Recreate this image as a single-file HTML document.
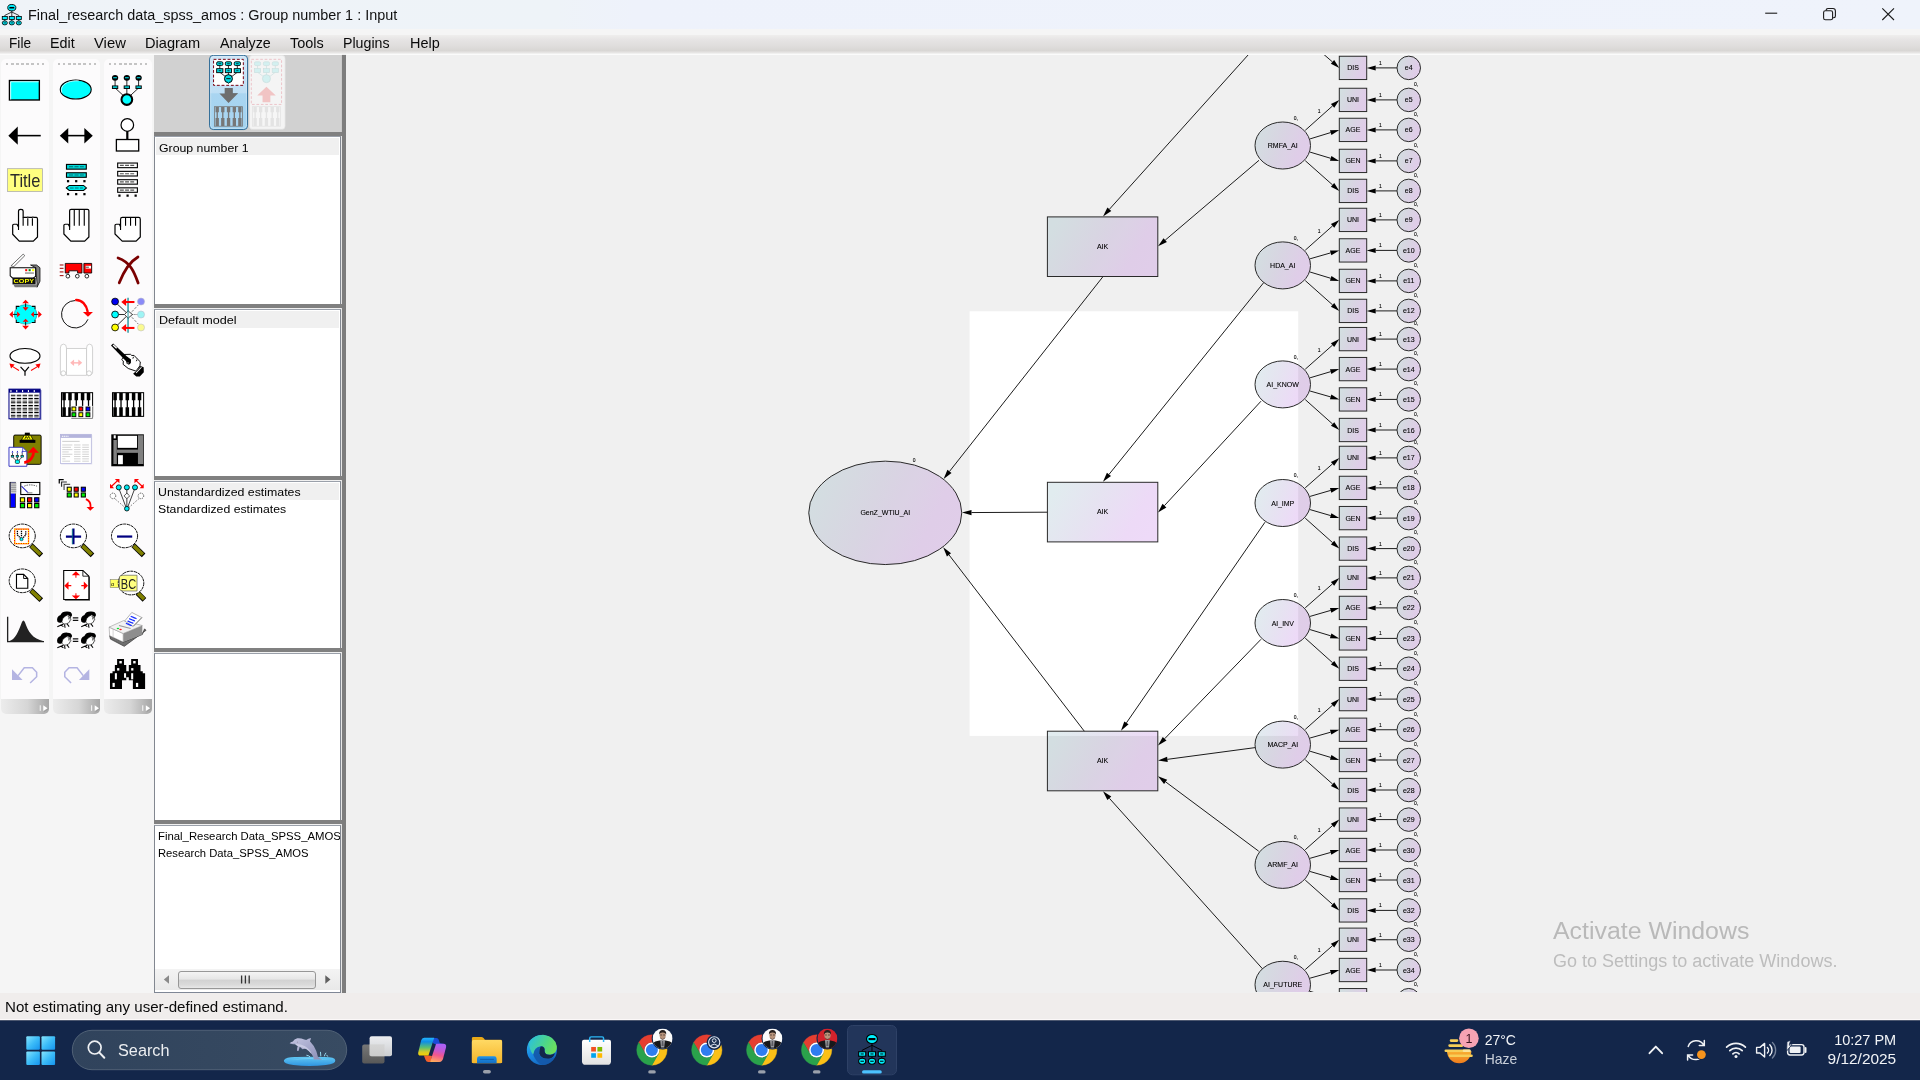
<!DOCTYPE html><html><head><meta charset="utf-8"><title>Final_research data_spss_amos : Group number 1 : Input</title>
<style>
*{box-sizing:border-box;margin:0;padding:0}
html,body{width:1920px;height:1080px;overflow:hidden;background:#f0f0f0;font-family:"Liberation Sans", sans-serif;}
.abs{position:absolute}
.t{position:absolute;white-space:nowrap;transform-origin:0 50%;line-height:normal;display:inline-block}
#titlebar{left:0;top:0;width:1920px;height:29px;background:linear-gradient(90deg,#eff3f8 0,#eef3f8 29%,#eef2fb 33%,#eff3fb 100%)}
#band{left:0;top:29px;width:1920px;height:6px;background:#f5f5f5}
#menubar{left:0;top:35px;width:1920px;height:19px;background:linear-gradient(#efeeed,#e6e4e4 25%,#dfdddc 60%,#d8d6d4 82%,#eae9e8 95%,#f7f7f7 100%)}
#menuline{left:0;top:53.5px;width:1920px;height:1.5px;background:#fbfbfb}
#leftbg{left:0;top:55px;width:154px;height:938px;background:#f5f5f5}
.col{top:59px;width:47.5px;height:654.5px;background:#fcfbfc;border-radius:5px 5px 5px 5px;overflow:hidden}
.col .grip{position:absolute;left:5px;top:4.3px;width:38px;height:2px;background:repeating-linear-gradient(90deg,#c4c4c4 0 2.4px,transparent 2.4px 5.1px)}
.col .foot{position:absolute;left:0;bottom:0;width:100%;height:15px;background:linear-gradient(90deg,#ececec,#d6d6d6 55%,#a6a6a6)}
#panelbg{left:154px;top:55px;width:188px;height:77px;background:#d1d1d1}
#vbar{left:342.2px;top:55px;width:4px;height:937.6px;background:#7d7d7d;box-shadow:0 0 1px #8a8a8a}
.hsep{left:154px;width:188px;height:4.5px;background:#808080}
.lb{left:154px;width:187px;background:#fff;border:1px solid #828790;border-top-color:#9aa0aa;border-bottom:none}
.row{left:156px;width:183px;height:17px;background:#f0f0f0}
#canvas{left:346px;top:55px;width:1574px;height:938px;background:#f0f0f0;overflow:hidden}
#status{left:0;top:993px;width:1920px;height:27px;background:linear-gradient(#f0edec 0,#f0edec 95%,#fbf8f8 96%)}
#taskbar{left:0;top:1020px;width:1920px;height:60px;background:#13264a}
</style></head><body>
<div id="titlebar" class="abs"></div><div id="band" class="abs"></div><div id="menubar" class="abs"></div><div id="menuline" class="abs"></div>
<span class="t" style="left:27.8px;top:5.72px;font-size:15.5px;color:#111;transform:scaleX(0.9295);">Final_research data_spss_amos : Group number 1 : Input</span>
<svg class="abs" style="left:0;top:0" width="26" height="28" viewBox="0 0 26 28"><g transform="translate(0.6,4.0) scale(0.70,0.67)">
<g stroke="#000" stroke-width="1.1" fill="none"><path d="M16 9V15M16 12L6 17V19M16 12L26 17V19M16 15V19M6 23V26M16 23V26M26 23V26"/></g>
<ellipse cx="16" cy="5.5" rx="5.8" ry="4.8" fill="#00f0ff" stroke="#000" stroke-width="1.3"/><rect x="12.5" y="4.4" width="7" height="2.3" fill="#000"/>
<g fill="#00f0ff" stroke="#000" stroke-width="1.2"><rect x="2.4" y="18.5" width="7.2" height="4.6"/><rect x="12.4" y="18.5" width="7.2" height="4.6"/><rect x="22.4" y="18.5" width="7.2" height="4.6"/><ellipse cx="6" cy="28.2" rx="3.7" ry="3"/><ellipse cx="16" cy="28.2" rx="3.7" ry="3"/><ellipse cx="26" cy="28.2" rx="3.7" ry="3"/></g>
<path d="M4.2 28.2h3.6M14.2 28.2h3.6M24.2 28.2h3.6" stroke="#000" stroke-width="1"/></g></svg>
<span class="t" style="left:9.3px;top:34.65px;font-size:14.5px;color:#0a0a0a;transform:scaleX(0.9435);">File</span>
<span class="t" style="left:50.3px;top:34.65px;font-size:14.5px;color:#0a0a0a;transform:scaleX(0.9880);">Edit</span>
<span class="t" style="left:94px;top:34.65px;font-size:14.5px;color:#0a0a0a;transform:scaleX(1.0226);">View</span>
<span class="t" style="left:145px;top:34.65px;font-size:14.5px;color:#0a0a0a;transform:scaleX(1.0055);">Diagram</span>
<span class="t" style="left:219.5px;top:34.65px;font-size:14.5px;color:#0a0a0a;transform:scaleX(0.9846);">Analyze</span>
<span class="t" style="left:289.5px;top:34.65px;font-size:14.5px;color:#0a0a0a;transform:scaleX(0.9971);">Tools</span>
<span class="t" style="left:343px;top:34.65px;font-size:14.5px;color:#0a0a0a;transform:scaleX(0.9792);">Plugins</span>
<span class="t" style="left:409.5px;top:34.65px;font-size:14.5px;color:#0a0a0a;transform:scaleX(0.9967);">Help</span>
<svg class="abs" style="left:1750px;top:0" width="170" height="29" viewBox="1750 0 170 29" fill="none" stroke="#1b1b1b" stroke-width="1.1">
<path d="M1765.2 13.2H1777.2"/>
<rect x="1823.6" y="10.8" width="9" height="9" rx="1.8"/><path d="M1826.2 10.6V10.2a1.7 1.7 0 0 1 1.7-1.7H1833a2.4 2.4 0 0 1 2.4 2.4V16a1.7 1.7 0 0 1-1.7 1.7H1833"/>
<path d="M1882.3 8.3L1894 20M1894 8.3L1882.3 20"/></svg>
<div id="leftbg" class="abs"></div>
<div class="col abs" style="left:1.3px"><div class="grip"></div><div class="foot"></div></div>
<div class="col abs" style="left:52.9px"><div class="grip"></div><div class="foot"></div></div>
<div class="col abs" style="left:104.4px"><div class="grip"></div><div class="foot"></div></div>
<svg class="abs" style="left:0;top:55px" width="154" height="662" viewBox="0 55 154 662" font-family="&quot;Liberation Sans&quot;, sans-serif">
<g transform="translate(0,56) scale(0.09259)">
<rect x="102" y="265" width="323" height="210" fill="#00ffff" stroke="#000" stroke-width="15"/><path d="M115 470V278H418" stroke="#fff" stroke-width="9" fill="none"/>
<ellipse cx="818" cy="362" rx="167" ry="103" fill="#00ffff" stroke="#000" stroke-width="12"/><path d="M668 395C640 300 760 262 850 268" stroke="#fff" stroke-width="8" fill="none"/>
<g stroke="#000" stroke-width="9" fill="none"><path d="M1243 250V330M1370 250V420M1497 250V330M1243 345L1335 430M1497 345L1405 430"/></g>
<ellipse cx="1243" cy="236" rx="34" ry="32" fill="#000"/><rect x="1223" y="228" width="40" height="13" fill="#00c8d0"/>
<rect x="1209" y="318" width="68" height="38" fill="#000"/><rect x="1219" y="328" width="48" height="16" fill="#00e0e8"/>
<ellipse cx="1370" cy="236" rx="34" ry="32" fill="#000"/><rect x="1350" y="228" width="40" height="13" fill="#00c8d0"/>
<rect x="1336" y="318" width="68" height="38" fill="#000"/><rect x="1346" y="328" width="48" height="16" fill="#00e0e8"/>
<ellipse cx="1497" cy="236" rx="34" ry="32" fill="#000"/><rect x="1477" y="228" width="40" height="13" fill="#00c8d0"/>
<rect x="1463" y="318" width="68" height="38" fill="#000"/><rect x="1473" y="328" width="48" height="16" fill="#00e0e8"/>
<circle cx="1370" cy="470" r="58" fill="#00ffff" stroke="#000" stroke-width="22"/>
<path d="M185 860H440" stroke="#000" stroke-width="17"/><path d="M90 860L192 762V958z" fill="#000"/>
<path d="M725 860H920" stroke="#000" stroke-width="17"/><path d="M646 860L737 778V944zM1002 860L911 778V944z" fill="#000"/>
<path d="M1375 810V905" stroke="#000" stroke-width="24"/><circle cx="1375" cy="745" r="68" fill="#fff" stroke="#000" stroke-width="13"/><rect x="1257" y="902" width="241" height="124" fill="#fff" stroke="#000" stroke-width="14"/>
</g>
<g transform="translate(0,156) scale(0.09259)">
<rect x="82" y="137" width="376" height="246" fill="#ffff80" stroke="#a8a8a8" stroke-width="8"/>
<text x="108" y="331" font-size="205" textLength="328" lengthAdjust="spacingAndGlyphs" fill="#2a2a2a">Title</text>
<rect x="718" y="91" width="214" height="51" fill="#00d8d8" stroke="#000" stroke-width="12"/><path d="M745 116.5H905" stroke="#006a70" stroke-width="12" stroke-dasharray="45 14"/>
<rect x="718" y="181" width="214" height="49" fill="#00d8d8" stroke="#000" stroke-width="12"/><path d="M745 205.5H905" stroke="#006a70" stroke-width="12" stroke-dasharray="45 14"/>
<path d="M716 345L748 318H902L934 345L902 372H748z" fill="#00e8e8" stroke="#000" stroke-width="11"/><path d="M755 345H895" stroke="#007078" stroke-width="11" stroke-dasharray="40 14"/>
<rect x="723" y="260" width="24" height="24" fill="#000"/>
<rect x="811" y="260" width="24" height="24" fill="#000"/>
<rect x="900" y="260" width="24" height="24" fill="#000"/>
<rect x="723" y="400" width="24" height="24" fill="#000"/>
<rect x="811" y="400" width="24" height="24" fill="#000"/>
<rect x="900" y="400" width="24" height="24" fill="#000"/>
<rect x="1271" y="76" width="213" height="50" fill="#fff" stroke="#000" stroke-width="12"/><path d="M1295 101.0H1462" stroke="#555" stroke-width="12" stroke-dasharray="42 14"/>
<rect x="1271" y="166" width="213" height="50" fill="#fff" stroke="#000" stroke-width="12"/><path d="M1295 191.0H1462" stroke="#555" stroke-width="12" stroke-dasharray="42 14"/>
<rect x="1271" y="256" width="213" height="48" fill="#fff" stroke="#000" stroke-width="12"/><path d="M1295 280.0H1462" stroke="#555" stroke-width="12" stroke-dasharray="42 14"/>
<rect x="1271" y="344" width="213" height="48" fill="#fff" stroke="#000" stroke-width="12"/><path d="M1295 368.0H1462" stroke="#555" stroke-width="12" stroke-dasharray="42 14"/>
<rect x="1278" y="416" width="24" height="24" fill="#000"/>
<rect x="1366" y="416" width="24" height="24" fill="#000"/>
<rect x="1453" y="416" width="24" height="24" fill="#000"/>
<path fill="#fff" stroke="#000" stroke-width="13" stroke-linejoin="round" d="M208 920L137 845V748Q137 737 150 737H183L200 765V597Q200 577 225 577Q250 577 250 597V662H292Q300 656 310 662H345Q355 656 365 662H393Q405 666 405 682V875L360 920z"/>
<path d="M250 662V752M300 672V752M350 672V752M200 765V800" stroke="#000" stroke-width="12" fill="none"/>
<path fill="#fff" stroke="#000" stroke-width="13" stroke-linejoin="round" d="M765 920L690 842V748Q690 737 704 737H737L752 765V592Q752 577 768 577H944Q960 577 960 592V875L915 920z"/>
<path d="M802 580V752M856 580V752M910 580V752M752 765V800" stroke="#000" stroke-width="12" fill="none"/>
<path fill="#fff" stroke="#000" stroke-width="13" stroke-linejoin="round" d="M1320 920L1242 842V748Q1242 737 1256 737H1290L1302 765V682Q1302 662 1322 662H1498Q1515 662 1515 682V875L1470 920z"/>
<path d="M1356 668V752M1410 668V752M1464 668V752M1302 765V800" stroke="#000" stroke-width="12" fill="none"/>
</g>
<g transform="translate(0,246) scale(0.09259)">
<path d="M118 215L250 88L268 104L150 222z" fill="#fff" stroke="#555" stroke-width="9"/>
<path d="M385 235L330 205H395L432 235V380L400 445V400z" fill="#808080" stroke="#000" stroke-width="8"/>
<path d="M110 235H385V330L360 345H135L110 322z" fill="#fff" stroke="#000" stroke-width="11"/>
<rect x="272" y="250" width="22" height="22" fill="#f00"/><rect x="309" y="250" width="22" height="22" fill="#080"/><rect x="346" y="250" width="24" height="22" fill="#ff0"/><path d="M270 292H366" stroke="#666" stroke-width="11"/>
<path d="M135 345H385V415H135z" fill="#111"/><path d="M145 415H400V446H160z" fill="#777"/>
<text x="147" y="405" font-size="58" font-weight="bold" textLength="222" lengthAdjust="spacingAndGlyphs" fill="#ff0">COPY</text>
<path d="M705 188H885V292H838V268H745V292H705z" fill="#f00" stroke="#000" stroke-width="9"/>
<path d="M906 188H990V292H906z" fill="#f00" stroke="#000" stroke-width="9"/><rect x="925" y="214" width="58" height="30" fill="#fff"/><path d="M925 229H960" stroke="#000" stroke-width="8"/>
<circle cx="733" cy="326" r="20" fill="#fff" stroke="#000" stroke-width="9"/>
<circle cx="835" cy="326" r="20" fill="#fff" stroke="#000" stroke-width="9"/>
<circle cx="938" cy="326" r="20" fill="#fff" stroke="#000" stroke-width="9"/>
<path d="M645 205H686" stroke="#a00000" stroke-width="11"/>
<path d="M645 241H686" stroke="#a00000" stroke-width="11"/>
<path d="M645 280H686" stroke="#a00000" stroke-width="11"/>
<path d="M645 320H686" stroke="#a00000" stroke-width="11"/>
<g fill="none" stroke="#7a0000" stroke-width="30" stroke-linecap="round"><path d="M1275 130C1420 180 1455 300 1492 400"/><path d="M1490 118C1400 170 1330 290 1288 398"/></g>
<g transform="scale(10.8)"><g transform="translate(4,48) scale(0.03891)">
<ellipse cx="555" cy="525" rx="292" ry="252" fill="#00ffff" stroke="#0a8a8a" stroke-width="14"/><rect x="322" y="322" width="468" height="408" fill="#00ffff"/>
<g fill="none" stroke="#000" stroke-width="26"><path d="M315 395V318H395M715 318H798V395M798 660V735H715M395 735H315V660"/></g>
<g stroke="#000" stroke-width="22"><path d="M555 235V340M555 712V815M228 525H338M768 525H878"/></g>
<g fill="#f00"><path d="M555 148L468 238H642zM555 428L478 342H632zM555 638L478 712H632zM555 912L468 818H642z"/><path d="M138 525L228 438V612zM418 525L338 452V598zM692 525L768 452V598zM972 525L880 438V612z"/></g>
</g></g>
<path d="M950 792A148 148 0 1 1 812 589" fill="none" stroke="#000" stroke-width="10"/>
<path d="M812 584C885 575 935 640 948 712" fill="none" stroke="#f00" stroke-width="26"/><path d="M896 712H1004L950 765z" fill="#f00"/>
<path d="M1383 558V938" stroke="#3aa0a8" stroke-width="17"/>
<g stroke="#000" stroke-width="9" fill="none"><path d="M1268 628L1360 715M1282 740H1345M1268 855L1360 765"/><path d="M1420 715L1495 635M1430 740H1485M1420 765L1495 845" stroke-dasharray="9 14"/></g>
<path d="M1345 740L1383 700L1430 740L1383 780z" fill="#fff" stroke="#000" stroke-width="8"/><path d="M1383 695V785" stroke="#3aa0a8" stroke-width="15" opacity=".8"/>
<circle cx="1243" cy="600" r="37" fill="#0000f0" stroke="#000" stroke-width="9"/><circle cx="1523" cy="600" r="38" fill="#8a8af8" stroke="#b8b8c8" stroke-width="6"/>
<circle cx="1243" cy="740" r="37" fill="#00ffff" stroke="#000" stroke-width="9"/><circle cx="1523" cy="740" r="38" fill="#9ff4f4" stroke="#b8b8c8" stroke-width="6"/>
<circle cx="1243" cy="880" r="37" fill="#ffff00" stroke="#000" stroke-width="9"/><circle cx="1523" cy="880" r="38" fill="#fafa90" stroke="#b8b8c8" stroke-width="6"/>
<path d="M1350 605H1452" stroke="#f00" stroke-width="22"/><path d="M1310 605L1362 563V647z" fill="#f00"/>
<path d="M1350 885H1452" stroke="#f00" stroke-width="22"/><path d="M1310 885L1362 843V927z" fill="#f00"/>
</g>
<g transform="translate(0,336) scale(0.09259)">
<ellipse cx="270" cy="215" rx="162" ry="80" fill="#fff" stroke="#000" stroke-width="12"/>
<path d="M222 333L270 385L312 333M270 385V428" fill="none" stroke="#000" stroke-width="13"/>
<g stroke="#f00" stroke-width="11" fill="none"><path d="M205 372L125 322M335 372L418 322"/></g><path d="M102 298L158 308L120 352zM438 298L382 308L420 352z" fill="#f00"/>
<g fill="#fff" stroke="#c9c9c9" stroke-width="9"><path d="M718 135H935V425H718z"/><path d="M652 130Q652 88 686 88Q718 88 718 130V400Q700 430 668 430Q652 420 652 400z"/><path d="M935 130Q935 88 968 88Q1000 88 1000 130V400Q985 430 955 430Q935 420 935 400z"/><circle cx="684" cy="402" r="26"/><circle cx="962" cy="402" r="26"/></g>
<path d="M795 290H855" stroke="#ffb8b8" stroke-width="16"/><path d="M758 290L800 255V325zM888 290L846 255V325z" fill="#ffb8b8"/>
<g transform="translate(0,0) scale(10.8)"><g transform="translate(106,4) scale(0.03891)">
<path d="M470 372L630 368L662 398L722 396L812 492L882 562L872 662L770 800L572 732L440 626L446 542L404 500L432 468z" fill="#fff" stroke="#000" stroke-width="24" stroke-linejoin="round"/>
<path d="M128 140L185 92L640 520L560 590z" fill="#000"/><path d="M170 140L195 118L285 200L262 225z" fill="#fff"/>
<path d="M440 468L545 428L642 502L640 592L590 638L528 602L520 512z" fill="#000"/><ellipse cx="566" cy="588" rx="24" ry="18" fill="#999"/>
<path d="M690 478L708 432M780 545L800 500" stroke="#000" stroke-width="24" fill="none"/>
<path d="M870 662L968 698L972 832L868 938L778 938L698 866L770 800z" fill="#000"/><path d="M772 848L912 700" stroke="#fff" stroke-width="26"/><path d="M752 822L880 680" stroke="#bbb" stroke-width="12"/>
</g></g>
<rect x="108" y="584" width="340" height="322" fill="#8a8ac8"/>
<rect x="97" y="574" width="336" height="320" fill="#fff" stroke="#000080" stroke-width="11"/><rect x="97" y="574" width="336" height="38" fill="#000080"/>
<rect x="112" y="584" width="12" height="22" fill="#fff"/>
<rect x="175" y="584" width="12" height="22" fill="#fff"/>
<rect x="238" y="584" width="12" height="22" fill="#fff"/>
<rect x="301" y="584" width="12" height="22" fill="#fff"/>
<rect x="364" y="584" width="12" height="22" fill="#fff"/>
<path d="M118 640H418" stroke="#000" stroke-width="13" stroke-dasharray="48 15"/><path d="M118 657H418" stroke="#888" stroke-width="9" stroke-dasharray="48 15"/>
<path d="M118 677H418" stroke="#000" stroke-width="13" stroke-dasharray="48 15"/><path d="M118 694H418" stroke="#888" stroke-width="9" stroke-dasharray="48 15"/>
<path d="M118 714H418" stroke="#000" stroke-width="13" stroke-dasharray="48 15"/><path d="M118 731H418" stroke="#888" stroke-width="9" stroke-dasharray="48 15"/>
<path d="M118 751H418" stroke="#000" stroke-width="13" stroke-dasharray="48 15"/><path d="M118 768H418" stroke="#888" stroke-width="9" stroke-dasharray="48 15"/>
<path d="M118 788H418" stroke="#000" stroke-width="13" stroke-dasharray="48 15"/><path d="M118 805H418" stroke="#888" stroke-width="9" stroke-dasharray="48 15"/>
<path d="M118 825H418" stroke="#000" stroke-width="13" stroke-dasharray="48 15"/><path d="M118 842H418" stroke="#888" stroke-width="9" stroke-dasharray="48 15"/>
<path d="M118 862H418" stroke="#000" stroke-width="13" stroke-dasharray="48 15"/><path d="M118 879H418" stroke="#888" stroke-width="9" stroke-dasharray="48 15"/>
<rect x="664" y="612" width="336" height="256" fill="#fff" stroke="#000" stroke-width="11"/>
<path d="M692 616V695M692 770V866" stroke="#000" stroke-width="38"/><path d="M692 690V775" stroke="#000" stroke-width="14"/>
<path d="M756 616V695M756 770V866" stroke="#000" stroke-width="38"/><path d="M756 690V775" stroke="#000" stroke-width="14"/>
<path d="M824 616V695M824 770V866" stroke="#000" stroke-width="38"/><path d="M824 690V775" stroke="#000" stroke-width="14"/>
<path d="M892 616V695M892 770V866" stroke="#000" stroke-width="38"/><path d="M892 690V775" stroke="#000" stroke-width="14"/>
<path d="M956 616V695M956 770V866" stroke="#000" stroke-width="38"/><path d="M956 690V775" stroke="#000" stroke-width="14"/>
<rect x="765" y="755" width="240" height="140" fill="#fff"/><path d="M770 890H1000V760" stroke="#666" stroke-width="9" fill="none"/>
<rect x="777" y="767" width="42" height="42" fill="#ff0" stroke="#000" stroke-width="10"/>
<rect x="852" y="767" width="42" height="42" fill="#f00" stroke="#000" stroke-width="10"/>
<rect x="929" y="767" width="42" height="42" fill="#00f" stroke="#000" stroke-width="10"/>
<rect x="777" y="829" width="42" height="42" fill="#0e0" stroke="#000" stroke-width="10"/>
<rect x="852" y="829" width="42" height="42" fill="#ff0" stroke="#000" stroke-width="10"/>
<rect x="929" y="829" width="42" height="42" fill="#0e0" stroke="#000" stroke-width="10"/>
<rect x="1215" y="612" width="336" height="256" fill="#fff" stroke="#000" stroke-width="11"/>
<path d="M1243 616V695M1243 770V866" stroke="#000" stroke-width="38"/><path d="M1243 690V775" stroke="#000" stroke-width="14"/>
<path d="M1307 616V695M1307 770V866" stroke="#000" stroke-width="38"/><path d="M1307 690V775" stroke="#000" stroke-width="14"/>
<path d="M1375 616V695M1375 770V866" stroke="#000" stroke-width="38"/><path d="M1375 690V775" stroke="#000" stroke-width="14"/>
<path d="M1443 616V695M1443 770V866" stroke="#000" stroke-width="38"/><path d="M1443 690V775" stroke="#000" stroke-width="14"/>
<path d="M1507 616V695M1507 770V866" stroke="#000" stroke-width="38"/><path d="M1507 690V775" stroke="#000" stroke-width="14"/>
</g>
<g transform="translate(0,426) scale(0.09259)">
<rect x="148" y="98" width="296" height="316" rx="14" fill="#808000" stroke="#000" stroke-width="10"/>
<path d="M212 150H382V182H212z" fill="#000"/><path d="M232 150L262 100H330L358 150z" fill="#ff0" stroke="#000" stroke-width="8"/><path d="M268 72H322V100H268z" fill="#000"/><path d="M268 140L282 112L296 135L310 112L324 140" stroke="#000" stroke-width="8" fill="none"/>
<path d="M97 230H245L290 275V435H97z" fill="#fff" stroke="#3030c0" stroke-width="10"/><path d="M245 230V275H290" fill="none" stroke="#3030c0" stroke-width="8"/>
<g stroke="#000" stroke-width="7" fill="none"><path d="M135 290V330M188 290V370M240 290V330M135 335L180 378M240 335L196 378"/></g>
<rect x="121" y="318" width="28" height="18" fill="#00e0e8" stroke="#000" stroke-width="6"/><path d="M135 268l-10 18h20z" fill="#0000c0"/>
<rect x="174" y="318" width="28" height="18" fill="#00e0e8" stroke="#000" stroke-width="6"/><path d="M188 268l-10 18h20z" fill="#0000c0"/>
<rect x="226" y="318" width="28" height="18" fill="#00e0e8" stroke="#000" stroke-width="6"/><path d="M240 268l-10 18h20z" fill="#0000c0"/>
<rect x="166" y="368" width="44" height="36" rx="10" fill="#00ffff" stroke="#000" stroke-width="7"/>
<path d="M262 395C330 385 362 330 362 285" fill="none" stroke="#f00" stroke-width="30"/><path d="M300 290L360 225L420 290z" fill="#f00"/>
<rect x="660" y="98" width="336" height="318" fill="#e4e4f0"/><rect x="652" y="90" width="334" height="316" fill="#fff" stroke="#b4b4dc" stroke-width="8"/><rect x="652" y="90" width="334" height="38" fill="#b4b4dc"/><path d="M668 110H740" stroke="#fff" stroke-width="12" stroke-dasharray="14 6"/>
<path d="M672 166H860" stroke="#c4c4c4" stroke-width="9"/>
<path d="M672 205h110M800 205h70M888 205h72" stroke="#cfcfcf" stroke-width="10"/>
<path d="M672 230h95M800 230h70M888 230h72" stroke="#cfcfcf" stroke-width="10"/>
<path d="M672 255h110M800 255h70M888 255h72" stroke="#cfcfcf" stroke-width="10"/>
<path d="M672 280h70M800 280h70M888 280h72" stroke="#cfcfcf" stroke-width="10"/>
<path d="M672 305h110M800 305h70M888 305h72" stroke="#cfcfcf" stroke-width="10"/>
<path d="M672 330h85M800 330h70M888 330h72" stroke="#cfcfcf" stroke-width="10"/>
<path d="M672 355h35M800 355h70M888 355h72" stroke="#cfcfcf" stroke-width="10"/>
<path d="M672 380h85M800 380h70M888 380h72" stroke="#cfcfcf" stroke-width="10"/>
<rect x="1202" y="90" width="352" height="345" fill="#000"/><path d="M1225 150H1262V410H1225zM1490 100H1548V410H1490z" fill="#808080"/><rect x="1228" y="100" width="22" height="34" fill="#fff"/>
<rect x="1272" y="106" width="208" height="130" fill="#fff"/><path d="M1262 255H1490V290H1262z" fill="#808080"/><rect x="1275" y="315" width="52" height="98" fill="#fff"/>
<rect x="110" y="608" width="58" height="272" fill="#00f" stroke="#222" stroke-width="8"/><rect x="114" y="612" width="62" height="118" fill="#d0d0d0"/><path d="M120 625H175M120 645H175M120 665H175M120 685H175M120 705H175" stroke="#888" stroke-width="8"/><path d="M108 606V884" stroke="#111" stroke-width="9"/>
<rect x="224" y="610" width="206" height="130" fill="#fff" stroke="#000" stroke-width="12"/><path d="M232 650L305 722" stroke="#2020c0" stroke-width="11"/><path d="M262 650Q320 622 400 650" stroke="#000" stroke-width="7" fill="none" stroke-dasharray="16 10"/><path d="M290 722H350" stroke="#888" stroke-width="12"/>
<rect x="220.0" y="775.0" width="46" height="46" fill="#ff0" stroke="#000" stroke-width="11"/>
<rect x="297.0" y="775.0" width="46" height="46" fill="#f00" stroke="#000" stroke-width="11"/>
<rect x="374.0" y="775.0" width="46" height="46" fill="#00f" stroke="#000" stroke-width="11"/>
<rect x="220.0" y="837.0" width="46" height="46" fill="#0e0" stroke="#000" stroke-width="11"/>
<rect x="297.0" y="837.0" width="46" height="46" fill="#ff0" stroke="#000" stroke-width="11"/>
<rect x="374.0" y="837.0" width="46" height="46" fill="#0e0" stroke="#000" stroke-width="11"/>
<g fill="none" stroke-width="13"><path d="M640 622V580H688" stroke="#000"/><path d="M665 655V605H722" stroke="#333"/><path d="M692 690V630H758" stroke="#555"/></g>
<rect x="726.0" y="661.0" width="44" height="44" fill="#ff0" stroke="#000" stroke-width="11"/>
<rect x="801.0" y="661.0" width="44" height="44" fill="#f00" stroke="#000" stroke-width="11"/>
<rect x="878.0" y="661.0" width="44" height="44" fill="#00f" stroke="#000" stroke-width="11"/>
<rect x="726.0" y="723.0" width="44" height="44" fill="#0e0" stroke="#000" stroke-width="11"/>
<rect x="801.0" y="723.0" width="44" height="44" fill="#ff0" stroke="#000" stroke-width="11"/>
<rect x="878.0" y="723.0" width="44" height="44" fill="#0e0" stroke="#000" stroke-width="11"/>
<path d="M928 790Q985 815 978 880" fill="none" stroke="#f00" stroke-width="20"/><path d="M935 875H1018L975 915z" fill="#f00"/>
<g stroke="#000" stroke-width="8" fill="none"><path d="M1290 690L1362 880M1370 690V870M1450 690L1378 880"/><path d="M1240 785L1350 880M1500 785L1392 880" stroke-dasharray="9 16"/></g>
<circle cx="1220" cy="755" r="30" fill="#fff" stroke="#000" stroke-width="7" stroke-dasharray="12 9"/><circle cx="1522" cy="755" r="30" fill="#fff" stroke="#000" stroke-width="7" stroke-dasharray="12 9"/>
<path d="M1370 725L1400 755L1370 785L1340 755z" fill="#fff" stroke="#000" stroke-width="7"/>
<circle cx="1283" cy="663" r="27" fill="#00e8f0" stroke="#000" stroke-width="9"/>
<circle cx="1370" cy="663" r="27" fill="#00e8f0" stroke="#000" stroke-width="9"/>
<circle cx="1458" cy="663" r="27" fill="#00e8f0" stroke="#000" stroke-width="9"/>
<circle cx="1370" cy="893" r="25" fill="#00e8f0" stroke="#000" stroke-width="9"/>
<g stroke="#f00" stroke-width="14"><path d="M1205 650L1270 590M1470 590L1535 650"/></g><path d="M1188 625V672H1232zM1240 572H1290V618zM1452 572H1502L1452 618zM1552 625V672H1508z" fill="#f00"/>
</g>
<g transform="translate(0,516) scale(0.09259)">
<path d="M335 318L446 424" stroke="#000" stroke-width="56"/><path d="M339 322L438 416" stroke="#808000" stroke-width="40"/>
<ellipse cx="240" cy="215" rx="141" ry="128" fill="#fff" stroke="#000" stroke-width="10" stroke-dasharray="34 7"/>
<rect x="158" y="142" width="150" height="156" fill="#fff" stroke="#f00" stroke-width="13"/><rect x="158" y="142" width="150" height="156" fill="none" stroke="#ff0" stroke-width="13" stroke-dasharray="13 13"/>
<path d="M188 160V205L232 250L278 205V160M232 160V230" stroke="#000" stroke-width="14" fill="none" stroke-dasharray="14 8"/><circle cx="232" cy="250" r="17" fill="#00ffff" stroke="#000" stroke-width="6"/>
<path d="M888 318L999 424" stroke="#000" stroke-width="56"/><path d="M892 322L991 416" stroke="#808000" stroke-width="40"/>
<ellipse cx="793" cy="215" rx="141" ry="128" fill="#fff" stroke="#000" stroke-width="10" stroke-dasharray="34 7"/>
<path d="M712 222H876M793 135V305" stroke="#000080" stroke-width="24"/><path d="M781 140V305" stroke="#008080" stroke-width="8"/>
<path d="M1440 318L1551 424" stroke="#000" stroke-width="56"/><path d="M1444 322L1543 416" stroke="#808000" stroke-width="40"/>
<ellipse cx="1345" cy="215" rx="141" ry="128" fill="#fff" stroke="#000" stroke-width="10" stroke-dasharray="34 7"/>
<path d="M1264 222H1428" stroke="#000080" stroke-width="24"/>
<path d="M335 803L446 909" stroke="#000" stroke-width="56"/><path d="M339 807L438 901" stroke="#808000" stroke-width="40"/>
<ellipse cx="240" cy="700" rx="141" ry="128" fill="#fff" stroke="#000" stroke-width="10" stroke-dasharray="34 7"/>
<path d="M178 630H255L300 675V780H178z" fill="#fff" stroke="#000" stroke-width="12"/><path d="M255 630V675H300" fill="none" stroke="#000" stroke-width="10"/>
<path d="M700 600H905L972 662V915H700z" fill="#555"/><path d="M688 588H895L960 650V902H688z" fill="#fff" stroke="#000" stroke-width="12"/><path d="M895 588V650H960" fill="none" stroke="#000" stroke-width="9"/>
<g stroke="#f00" stroke-width="11"><path d="M820 625V668M820 835V880M722 752H770M878 752H925"/></g><path d="M820 596L775 640H865zM820 900L775 858H865zM694 752L740 708V796zM950 752L905 708V796z" fill="#f00"/>
<path d="M1485 830L1560 905" stroke="#000" stroke-width="56"/><path d="M1489 834L1556 897" stroke="#808000" stroke-width="40"/>
<rect x="1190" y="686" width="120" height="88" fill="#ffff60" stroke="#777" stroke-width="6"/><text x="1200" y="752" font-size="62" fill="#000">o</text>
<ellipse cx="1415" cy="724" rx="138" ry="128" fill="#fff" stroke="#000" stroke-width="10" stroke-dasharray="34 7"/>
<path d="M1290 655Q1300 642 1330 640H1480V810H1330Q1300 805 1290 790z" fill="#ffff80" stroke="#555" stroke-width="7"/>
<text x="1305" y="790" font-size="160" textLength="165" lengthAdjust="spacingAndGlyphs" fill="#222">BC</text>
</g>
<g transform="translate(0,606) scale(0.10183)">
<path d="M75 105V350H432" fill="none" stroke="#222" stroke-width="13"/><path d="M88 345C150 335 180 250 215 160Q230 125 245 160C275 250 320 325 430 345z" fill="#222"/>
<g transform="scale(9.82)"><g transform="translate(52,2) scale(0.05313)">
<g transform="translate(0,0)"><path d="M200 200Q240 150 300 128L352 168L342 200L362 216L336 236L330 266L282 296L226 302L184 266z" fill="#fff" stroke="#000" stroke-width="12"/><path d="M100 252Q78 160 160 130Q190 58 290 66Q372 66 378 130Q374 160 352 168L300 128Q240 150 200 200L184 266Q140 292 100 252z" fill="#000"/><path d="M300 150Q330 175 318 215" stroke="#000" stroke-width="14" fill="none"/><path d="M326 178h16" stroke="#000" stroke-width="12"/><path d="M216 302L100 352M236 308L246 372M282 296L322 350M160 318L215 350" stroke="#000" stroke-width="20" fill="none"/></g>
<g transform="translate(450,0)"><path d="M200 200Q240 150 300 128L352 168L342 200L362 216L336 236L330 266L282 296L226 302L184 266z" fill="#fff" stroke="#000" stroke-width="12"/><path d="M100 252Q78 160 160 130Q190 58 290 66Q372 66 378 130Q374 160 352 168L300 128Q240 150 200 200L184 266Q140 292 100 252z" fill="#000"/><path d="M300 150Q330 175 318 215" stroke="#000" stroke-width="14" fill="none"/><path d="M326 178h16" stroke="#000" stroke-width="12"/><path d="M216 302L100 352M236 308L246 372M282 296L322 350M160 318L215 350" stroke="#000" stroke-width="20" fill="none"/></g>
<g transform="translate(0,398)"><path d="M200 200Q240 150 300 128L352 168L342 200L362 216L336 236L330 266L282 296L226 302L184 266z" fill="#fff" stroke="#000" stroke-width="12"/><path d="M100 252Q78 160 160 130Q190 58 290 66Q372 66 378 130Q374 160 352 168L300 128Q240 150 200 200L184 266Q140 292 100 252z" fill="#000"/><path d="M300 150Q330 175 318 215" stroke="#000" stroke-width="14" fill="none"/><path d="M326 178h16" stroke="#000" stroke-width="12"/><path d="M216 302L100 352M236 308L246 372M282 296L322 350M160 318L215 350" stroke="#000" stroke-width="20" fill="none"/></g>
<g transform="translate(450,398)"><path d="M200 200Q240 150 300 128L352 168L342 200L362 216L336 236L330 266L282 296L226 302L184 266z" fill="#fff" stroke="#000" stroke-width="12"/><path d="M100 252Q78 160 160 130Q190 58 290 66Q372 66 378 130Q374 160 352 168L300 128Q240 150 200 200L184 266Q140 292 100 252z" fill="#000"/><path d="M300 150Q330 175 318 215" stroke="#000" stroke-width="14" fill="none"/><path d="M326 178h16" stroke="#000" stroke-width="12"/><path d="M216 302L100 352M236 308L246 372M282 296L322 350M160 318L215 350" stroke="#000" stroke-width="20" fill="none"/></g>
<path d="M392 185H495M392 232H495M392 583H495M392 630H495" stroke="#111" stroke-width="24"/>
<path d="M1085 520L1100 585L1360 722L1770 420L1742 392L1700 500L1340 642z" fill="#6e6e6e" stroke="#222" stroke-width="12" stroke-linejoin="round"/>
<path d="M1340 480L1700 330V500L1340 642z" fill="#8e8e8e"/><path d="M1075 360L1340 480V642L1085 520z" fill="#fff" stroke="#8a8a8a" stroke-width="10"/>
<path d="M1075 360L1345 238L1700 330L1340 480z" fill="#f2f2f2" stroke="#8a8a8a" stroke-width="10" stroke-linejoin="round"/><path d="M1150 395V560" stroke="#b0b0b0" stroke-width="10"/><path d="M1262 330L1480 385" stroke="#999" stroke-width="22"/>
<path d="M1368 245L1502 84L1692 180L1528 345z" fill="#fff" stroke="#8a8a8a" stroke-width="12" stroke-linejoin="round"/><path d="M1528 345L1692 180" stroke="#555" stroke-width="12"/>
<path d="M1400 292L1492 330" stroke="#1a30ff" stroke-width="24" stroke-dasharray="34 10" stroke-linecap="round"/>
<path d="M1430 248L1522 286" stroke="#1a30ff" stroke-width="24" stroke-dasharray="34 10" stroke-linecap="round"/>
<path d="M1460 204L1552 242" stroke="#1a30ff" stroke-width="24" stroke-dasharray="34 10" stroke-linecap="round"/>
<path d="M1490 160L1582 198" stroke="#1a30ff" stroke-width="24" stroke-dasharray="34 10" stroke-linecap="round"/>
<ellipse cx="1242" cy="384" rx="24" ry="14" fill="#10e030"/><ellipse cx="1290" cy="406" rx="24" ry="14" fill="#ff1a1a"/>
</g></g>
<g fill="none" stroke="#b4b4e2" stroke-width="15"><path d="M178 684L238 606H318L360 650V695L296 756"/><path d="M817 684L757 606H678L636 650V695L698 756"/></g>
<path d="M118 622V726H222z" fill="#b4b4e2"/><path d="M877 622V726H775z" fill="#b4b4e2"/>
<path d="M1150 520H1218V580H1240V640H1265V580H1288V520H1355V580H1380V640H1402V660H1425V815H1305V730H1265V700H1240V730H1198V815H1080V660H1105V640H1128V580H1150z" fill="#000"/>
<rect x="1172" y="540" width="24" height="24" fill="#fff"/>
<rect x="1308" y="540" width="24" height="24" fill="#fff"/>
<rect x="1150" y="610" width="22" height="24" fill="#fff"/>
<rect x="1288" y="610" width="22" height="24" fill="#fff"/>
<rect x="1128" y="660" width="20" height="60" fill="#fff"/>
<rect x="1218" y="660" width="20" height="45" fill="#fff"/>
<rect x="1288" y="660" width="20" height="60" fill="#fff"/>
<rect x="1105" y="755" width="22" height="40" fill="#fff"/>
<rect x="1335" y="755" width="22" height="40" fill="#fff"/>
<path d="M395 975V1030" stroke="#fff" stroke-width="9"/><path d="M425 975L467 1003L425 1030z" fill="#fff"/><path d="M433 1038L475 1008" stroke="#888" stroke-width="5"/>
<path d="M900 975V1030" stroke="#fff" stroke-width="9"/><path d="M930 975L972 1003L930 1030z" fill="#fff"/><path d="M938 1038L980 1008" stroke="#888" stroke-width="5"/>
<path d="M1402 975V1030" stroke="#fff" stroke-width="9"/><path d="M1432 975L1474 1003L1432 1030z" fill="#fff"/><path d="M1440 1038L1482 1008" stroke="#888" stroke-width="5"/>
</g>
</svg>
<div id="panelbg" class="abs"></div><div id="vbar" class="abs"></div>
<svg class="abs" style="left:200px;top:55px" width="100" height="78" viewBox="200 55 100 78">
<defs><linearGradient id="pb1" x1="0" y1="0" x2="0" y2="1"><stop offset="0" stop-color="#cfe6f7"/><stop offset="0.5" stop-color="#bfdff5"/><stop offset="0.52" stop-color="#a9d5f1"/><stop offset="1" stop-color="#a3d3f0"/></linearGradient></defs>
<g transform="translate(150,50) scale(0.11111)">
<rect x="536" y="48" width="342" height="668" rx="34" fill="url(#pb1)" stroke="#2e6a96" stroke-width="9"/><rect x="546" y="58" width="322" height="648" rx="27" fill="none" stroke="#e4f2fb" stroke-width="5" opacity=".7"/>
<g opacity="1.0">
<rect x="572" y="84" width="268" height="234" fill="#fff" stroke="#7a0010" stroke-width="9" stroke-dasharray="26 16"/>
<g stroke="#000" stroke-width="7" fill="none"><path d="M628 140V170M706 140V225M786 140V170M628 200L686 245M786 200L728 245"/></g>
<rect x="600" y="106" width="56" height="34" rx="12" fill="#00d8e0" stroke="#000" stroke-width="8"/><path d="M616 123h24" stroke="#000" stroke-width="6"/>
<rect x="600" y="168" width="56" height="36" fill="#00d8e0" stroke="#000" stroke-width="8"/><path d="M618 186h20" stroke="#000" stroke-width="6"/>
<rect x="678" y="106" width="56" height="34" rx="12" fill="#00d8e0" stroke="#000" stroke-width="8"/><path d="M694 123h24" stroke="#000" stroke-width="6"/>
<rect x="678" y="168" width="56" height="36" fill="#00d8e0" stroke="#000" stroke-width="8"/><path d="M696 186h20" stroke="#000" stroke-width="6"/>
<rect x="758" y="106" width="56" height="34" rx="12" fill="#00d8e0" stroke="#000" stroke-width="8"/><path d="M774 123h24" stroke="#000" stroke-width="6"/>
<rect x="758" y="168" width="56" height="36" fill="#00d8e0" stroke="#000" stroke-width="8"/><path d="M776 186h20" stroke="#000" stroke-width="6"/>
<circle cx="706" cy="258" r="36" fill="#00d8e0" stroke="#000" stroke-width="9"/><path d="M686 258h40" stroke="#000" stroke-width="8"/><path d="M696 292l10 10l10-10" fill="#00d8e0" stroke="#000" stroke-width="5"/>
</g>
<path d="M672 342H742V392H790L707 478L625 392H672z" fill="#6e6e6e"/><path d="M742 342V392H790" stroke="#555" stroke-width="5" fill="none"/>
<g opacity="1"><rect x="581" y="510" width="252" height="176" fill="#a9d5f1" stroke="#777" stroke-width="7"/>
<path d="M605 512V560M605 612V684" stroke="#777" stroke-width="30"/><path d="M605 556V616" stroke="#777" stroke-width="12"/>
<path d="M655 512V560M655 612V684" stroke="#777" stroke-width="30"/><path d="M655 556V616" stroke="#777" stroke-width="12"/>
<path d="M707 512V560M707 612V684" stroke="#777" stroke-width="30"/><path d="M707 556V616" stroke="#777" stroke-width="12"/>
<path d="M759 512V560M759 612V684" stroke="#777" stroke-width="30"/><path d="M759 556V616" stroke="#777" stroke-width="12"/>
<path d="M809 512V560M809 612V684" stroke="#777" stroke-width="30"/><path d="M809 556V616" stroke="#777" stroke-width="12"/>
</g>
<rect x="894" y="48" width="322" height="666" rx="30" fill="#f4f4f4" stroke="#e2e2e2" stroke-width="6"/>
<rect x="912" y="84" width="272" height="406" fill="none" stroke="#ebb8be" stroke-width="7" stroke-dasharray="24 16"/>
<g opacity=".28">
<g stroke="#5aa" stroke-width="6" fill="none"><path d="M968 140V170M1048 140V225M1128 140V170M968 200L1028 245M1128 200L1070 245"/></g>
<rect x="940" y="106" width="56" height="34" rx="12" fill="#7fe6e6" stroke="#6aa" stroke-width="6"/><rect x="940" y="168" width="56" height="36" fill="#7fe6e6" stroke="#6aa" stroke-width="6"/>
<rect x="1020" y="106" width="56" height="34" rx="12" fill="#7fe6e6" stroke="#6aa" stroke-width="6"/><rect x="1020" y="168" width="56" height="36" fill="#7fe6e6" stroke="#6aa" stroke-width="6"/>
<rect x="1100" y="106" width="56" height="34" rx="12" fill="#7fe6e6" stroke="#6aa" stroke-width="6"/><rect x="1100" y="168" width="56" height="36" fill="#7fe6e6" stroke="#6aa" stroke-width="6"/>
<circle cx="1048" cy="258" r="36" fill="#7fe6e6" stroke="#6aa" stroke-width="7"/>
</g>
<path d="M1013 470H1083V410H1132L1048 330L965 410H1013z" fill="#f1c4c4"/>
<g opacity="1"><rect x="922" y="510" width="252" height="176" fill="#f6f6f6" stroke="#e3e3e3" stroke-width="7"/>
<path d="M946 512V560M946 612V684" stroke="#e3e3e3" stroke-width="30"/><path d="M946 556V616" stroke="#e3e3e3" stroke-width="12"/>
<path d="M996 512V560M996 612V684" stroke="#e3e3e3" stroke-width="30"/><path d="M996 556V616" stroke="#e3e3e3" stroke-width="12"/>
<path d="M1048 512V560M1048 612V684" stroke="#e3e3e3" stroke-width="30"/><path d="M1048 556V616" stroke="#e3e3e3" stroke-width="12"/>
<path d="M1100 512V560M1100 612V684" stroke="#e3e3e3" stroke-width="30"/><path d="M1100 556V616" stroke="#e3e3e3" stroke-width="12"/>
<path d="M1150 512V560M1150 612V684" stroke="#e3e3e3" stroke-width="30"/><path d="M1150 556V616" stroke="#e3e3e3" stroke-width="12"/>
</g>
</g></svg>
<div class="hsep abs" style="top:131.6px;height:4.2px"></div>
<div class="lb abs" style="top:136px;height:168px"></div>
<div class="hsep abs" style="top:304.1px;height:4.2px"></div>
<div class="lb abs" style="top:308.5px;height:167.5px"></div>
<div class="hsep abs" style="top:476.1px;height:4.2px"></div>
<div class="lb abs" style="top:480.5px;height:167.5px"></div>
<div class="hsep abs" style="top:648.1px;height:4.2px"></div>
<div class="lb abs" style="top:652.5px;height:167.5px"></div>
<div class="hsep abs" style="top:820.1px;height:4.2px"></div>
<div class="lb abs" style="top:824.5px;height:168.5px;border-bottom:1.2px solid #7f8796"></div>
<div class="row abs" style="top:138.3px"></div>
<div class="row abs" style="top:310.7px"></div>
<div class="row abs" style="top:483px"></div>
<span class="t" style="left:158.6px;top:140.92px;font-size:11.7px;color:#000;transform:scaleX(1.0529);">Group number 1</span>
<span class="t" style="left:158.6px;top:313.22px;font-size:11.7px;color:#000;transform:scaleX(1.0764);">Default model</span>
<span class="t" style="left:158.2px;top:485.42px;font-size:11.7px;color:#000;transform:scaleX(1.0556);">Unstandardized estimates</span>
<span class="t" style="left:158.2px;top:502.42px;font-size:11.7px;color:#000;transform:scaleX(1.0492);">Standardized estimates</span>
<div class="abs" style="left:155px;top:826px;width:185px;height:40px;overflow:hidden">
<span class="t" style="left:3.2px;top:3.42px;font-size:11.7px;color:#000;transform:scaleX(0.9707);">Final_Research Data_SPSS_AMOS</span>
<span class="t" style="left:3.2px;top:20.12px;font-size:11.7px;color:#000;transform:scaleX(0.9618);">Research Data_SPSS_AMOS</span>
</div>
<div class="abs" style="left:155px;top:969px;width:185px;height:21px;background:linear-gradient(#f3f3f3,#e9e9e9)"></div>
<div class="abs" style="left:177.5px;top:970.5px;width:138px;height:18px;border:1px solid #979797;border-radius:3px;background:linear-gradient(#f4f4f4,#e6e6e6 45%,#d2d2d2 50%,#dadada 80%,#e8e8e8)"></div>
<svg class="abs" style="left:155px;top:969px" width="185" height="23" viewBox="155 969 185 23"><path d="M169 975.3v8.4l-5.2-4.2z" fill="#8a8a8a"/><path d="M325.3 975.3v8.4l5.2-4.2z" fill="#606060"/>
<path d="M241.6 975.5v8M245.4 975.5v8M249.2 975.5v8" stroke="#333" stroke-width="1.3"/></svg>
<div id="canvas" class="abs">
<svg class="abs" style="left:0;top:0" width="1574" height="937" viewBox="346 55 1574 937" font-family="&quot;Liberation Sans&quot;, sans-serif">
<defs>
<linearGradient id="gf" x1="0" y1="0.34" x2="1" y2="0.66"><stop offset="0" stop-color="#e1ecef"/><stop offset="0.4" stop-color="#e6e3f1"/><stop offset="0.8" stop-color="#eddaf7"/><stop offset="1" stop-color="#eedaf8"/></linearGradient>
</defs>
<rect x="969.6" y="311.3" width="328.6" height="424.6" fill="#fff"/>
<path d="M1262.00 39.50L1109.35 209.33" stroke="#1c1c1c" stroke-width="1.0" fill="none"/>
<path d="M1103.00 216.40L1107.42 207.60L1111.28 211.07z" fill="#000"/>
<path d="M1259.00 160.30L1165.23 240.14" stroke="#1c1c1c" stroke-width="1.0" fill="none"/>
<path d="M1158.00 246.30L1163.55 238.16L1166.92 242.12z" fill="#000"/>
<path d="M1103.00 276.60L949.48 471.44" stroke="#1c1c1c" stroke-width="1.0" fill="none"/>
<path d="M943.60 478.90L947.44 469.83L951.52 473.05z" fill="#000"/>
<path d="M1263.80 282.50L1108.97 474.41" stroke="#1c1c1c" stroke-width="1.0" fill="none"/>
<path d="M1103.00 481.80L1106.94 472.77L1110.99 476.04z" fill="#000"/>
<path d="M1261.00 401.20L1164.45 505.62" stroke="#1c1c1c" stroke-width="1.0" fill="none"/>
<path d="M1158.00 512.60L1162.54 503.86L1166.36 507.39z" fill="#000"/>
<path d="M1047.40 512.20L971.50 512.56" stroke="#1c1c1c" stroke-width="1.0" fill="none"/>
<path d="M962.00 512.60L971.49 509.96L971.51 515.16z" fill="#000"/>
<path d="M1265.00 522.20L1126.40 722.88" stroke="#1c1c1c" stroke-width="1.0" fill="none"/>
<path d="M1121.00 730.70L1124.26 721.41L1128.54 724.36z" fill="#000"/>
<path d="M1261.00 639.30L1164.61 738.78" stroke="#1c1c1c" stroke-width="1.0" fill="none"/>
<path d="M1158.00 745.60L1162.74 736.97L1166.48 740.59z" fill="#000"/>
<path d="M1255.20 747.60L1167.42 759.34" stroke="#1c1c1c" stroke-width="1.0" fill="none"/>
<path d="M1158.00 760.60L1167.07 756.76L1167.76 761.92z" fill="#000"/>
<path d="M1258.70 851.20L1165.62 781.87" stroke="#1c1c1c" stroke-width="1.0" fill="none"/>
<path d="M1158.00 776.20L1167.17 779.79L1164.07 783.96z" fill="#000"/>
<path d="M1262.50 968.80L1109.35 798.27" stroke="#1c1c1c" stroke-width="1.0" fill="none"/>
<path d="M1103.00 791.20L1111.28 796.53L1107.41 800.01z" fill="#000"/>
<path d="M1084.30 731.20L948.98 554.84" stroke="#1c1c1c" stroke-width="1.0" fill="none"/>
<path d="M943.20 547.30L951.05 553.25L946.92 556.42z" fill="#000"/>
<path d="M1305.25 38.20L1332.52 61.98" stroke="#1c1c1c" stroke-width="1.0" fill="none"/>
<path d="M1339.30 67.90L1330.87 63.87L1334.16 60.10z" fill="#000"/>
<path d="M1397.00 67.90L1375.70 67.90" stroke="#1c1c1c" stroke-width="1.0" fill="none"/>
<path d="M1366.70 67.90L1375.70 65.40L1375.70 70.40z" fill="#000"/>
<path d="M1305.25 130.30L1332.59 105.89" stroke="#1c1c1c" stroke-width="1.0" fill="none"/>
<path d="M1339.30 99.90L1334.25 107.76L1330.92 104.03z" fill="#000"/>
<path d="M1397.00 99.90L1375.70 99.90" stroke="#1c1c1c" stroke-width="1.0" fill="none"/>
<path d="M1366.70 99.90L1375.70 97.40L1375.70 102.40z" fill="#000"/>
<path d="M1310.05 138.90L1330.70 132.55" stroke="#1c1c1c" stroke-width="1.0" fill="none"/>
<path d="M1339.30 129.90L1331.43 134.94L1329.96 130.16z" fill="#000"/>
<path d="M1397.00 129.90L1375.70 129.90" stroke="#1c1c1c" stroke-width="1.0" fill="none"/>
<path d="M1366.70 129.90L1375.70 127.40L1375.70 132.40z" fill="#000"/>
<path d="M1310.05 152.10L1330.68 158.31" stroke="#1c1c1c" stroke-width="1.0" fill="none"/>
<path d="M1339.30 160.90L1329.96 160.70L1331.40 155.91z" fill="#000"/>
<path d="M1397.00 160.90L1375.70 160.90" stroke="#1c1c1c" stroke-width="1.0" fill="none"/>
<path d="M1366.70 160.90L1375.70 158.40L1375.70 163.40z" fill="#000"/>
<path d="M1305.25 160.70L1332.57 184.93" stroke="#1c1c1c" stroke-width="1.0" fill="none"/>
<path d="M1339.30 190.90L1330.91 186.80L1334.23 183.06z" fill="#000"/>
<path d="M1397.00 190.90L1375.70 190.90" stroke="#1c1c1c" stroke-width="1.0" fill="none"/>
<path d="M1366.70 190.90L1375.70 188.40L1375.70 193.40z" fill="#000"/>
<path d="M1305.25 250.20L1332.58 225.88" stroke="#1c1c1c" stroke-width="1.0" fill="none"/>
<path d="M1339.30 219.90L1334.24 227.75L1330.91 224.02z" fill="#000"/>
<path d="M1397.00 219.90L1375.70 219.90" stroke="#1c1c1c" stroke-width="1.0" fill="none"/>
<path d="M1366.70 219.90L1375.70 217.40L1375.70 222.40z" fill="#000"/>
<path d="M1310.05 258.80L1330.65 252.88" stroke="#1c1c1c" stroke-width="1.0" fill="none"/>
<path d="M1339.30 250.40L1331.34 255.29L1329.96 250.48z" fill="#000"/>
<path d="M1397.00 250.40L1375.70 250.40" stroke="#1c1c1c" stroke-width="1.0" fill="none"/>
<path d="M1366.70 250.40L1375.70 247.90L1375.70 252.90z" fill="#000"/>
<path d="M1310.05 272.00L1330.69 278.28" stroke="#1c1c1c" stroke-width="1.0" fill="none"/>
<path d="M1339.30 280.90L1329.96 280.67L1331.42 275.89z" fill="#000"/>
<path d="M1397.00 280.90L1375.70 280.90" stroke="#1c1c1c" stroke-width="1.0" fill="none"/>
<path d="M1366.70 280.90L1375.70 278.40L1375.70 283.40z" fill="#000"/>
<path d="M1305.25 280.60L1332.58 304.92" stroke="#1c1c1c" stroke-width="1.0" fill="none"/>
<path d="M1339.30 310.90L1330.91 306.78L1334.24 303.05z" fill="#000"/>
<path d="M1397.00 310.90L1375.70 310.90" stroke="#1c1c1c" stroke-width="1.0" fill="none"/>
<path d="M1366.70 310.90L1375.70 308.40L1375.70 313.40z" fill="#000"/>
<path d="M1305.25 369.20L1332.56 345.06" stroke="#1c1c1c" stroke-width="1.0" fill="none"/>
<path d="M1339.30 339.10L1334.21 346.93L1330.90 343.19z" fill="#000"/>
<path d="M1397.00 339.10L1375.70 339.10" stroke="#1c1c1c" stroke-width="1.0" fill="none"/>
<path d="M1366.70 339.10L1375.70 336.60L1375.70 341.60z" fill="#000"/>
<path d="M1310.05 377.80L1330.67 371.67" stroke="#1c1c1c" stroke-width="1.0" fill="none"/>
<path d="M1339.30 369.10L1331.39 374.06L1329.96 369.27z" fill="#000"/>
<path d="M1397.00 369.10L1375.70 369.10" stroke="#1c1c1c" stroke-width="1.0" fill="none"/>
<path d="M1366.70 369.10L1375.70 366.60L1375.70 371.60z" fill="#000"/>
<path d="M1310.05 391.00L1330.65 396.92" stroke="#1c1c1c" stroke-width="1.0" fill="none"/>
<path d="M1339.30 399.40L1329.96 399.32L1331.34 394.51z" fill="#000"/>
<path d="M1397.00 399.40L1375.70 399.40" stroke="#1c1c1c" stroke-width="1.0" fill="none"/>
<path d="M1366.70 399.40L1375.70 396.90L1375.70 401.90z" fill="#000"/>
<path d="M1305.25 399.60L1332.59 424.01" stroke="#1c1c1c" stroke-width="1.0" fill="none"/>
<path d="M1339.30 430.00L1330.92 425.87L1334.25 422.14z" fill="#000"/>
<path d="M1397.00 430.00L1375.70 430.00" stroke="#1c1c1c" stroke-width="1.0" fill="none"/>
<path d="M1366.70 430.00L1375.70 427.50L1375.70 432.50z" fill="#000"/>
<path d="M1305.25 487.80L1332.54 463.84" stroke="#1c1c1c" stroke-width="1.0" fill="none"/>
<path d="M1339.30 457.90L1334.19 465.72L1330.89 461.96z" fill="#000"/>
<path d="M1397.00 457.90L1375.70 457.90" stroke="#1c1c1c" stroke-width="1.0" fill="none"/>
<path d="M1366.70 457.90L1375.70 455.40L1375.70 460.40z" fill="#000"/>
<path d="M1310.05 496.40L1330.66 490.41" stroke="#1c1c1c" stroke-width="1.0" fill="none"/>
<path d="M1339.30 487.90L1331.36 492.81L1329.96 488.01z" fill="#000"/>
<path d="M1397.00 487.90L1375.70 487.90" stroke="#1c1c1c" stroke-width="1.0" fill="none"/>
<path d="M1366.70 487.90L1375.70 485.40L1375.70 490.40z" fill="#000"/>
<path d="M1310.05 509.60L1330.66 515.59" stroke="#1c1c1c" stroke-width="1.0" fill="none"/>
<path d="M1339.30 518.10L1329.96 517.99L1331.36 513.19z" fill="#000"/>
<path d="M1397.00 518.10L1375.70 518.10" stroke="#1c1c1c" stroke-width="1.0" fill="none"/>
<path d="M1366.70 518.10L1375.70 515.60L1375.70 520.60z" fill="#000"/>
<path d="M1305.25 518.20L1332.59 542.61" stroke="#1c1c1c" stroke-width="1.0" fill="none"/>
<path d="M1339.30 548.60L1330.92 544.47L1334.25 540.74z" fill="#000"/>
<path d="M1397.00 548.60L1375.70 548.60" stroke="#1c1c1c" stroke-width="1.0" fill="none"/>
<path d="M1366.70 548.60L1375.70 546.10L1375.70 551.10z" fill="#000"/>
<path d="M1305.25 607.80L1332.54 583.84" stroke="#1c1c1c" stroke-width="1.0" fill="none"/>
<path d="M1339.30 577.90L1334.19 585.72L1330.89 581.96z" fill="#000"/>
<path d="M1397.00 577.90L1375.70 577.90" stroke="#1c1c1c" stroke-width="1.0" fill="none"/>
<path d="M1366.70 577.90L1375.70 575.40L1375.70 580.40z" fill="#000"/>
<path d="M1310.05 616.40L1330.66 610.41" stroke="#1c1c1c" stroke-width="1.0" fill="none"/>
<path d="M1339.30 607.90L1331.36 612.81L1329.96 608.01z" fill="#000"/>
<path d="M1397.00 607.90L1375.70 607.90" stroke="#1c1c1c" stroke-width="1.0" fill="none"/>
<path d="M1366.70 607.90L1375.70 605.40L1375.70 610.40z" fill="#000"/>
<path d="M1310.05 629.60L1330.68 635.81" stroke="#1c1c1c" stroke-width="1.0" fill="none"/>
<path d="M1339.30 638.40L1329.96 638.20L1331.40 633.41z" fill="#000"/>
<path d="M1397.00 638.40L1375.70 638.40" stroke="#1c1c1c" stroke-width="1.0" fill="none"/>
<path d="M1366.70 638.40L1375.70 635.90L1375.70 640.90z" fill="#000"/>
<path d="M1305.25 638.20L1332.60 662.74" stroke="#1c1c1c" stroke-width="1.0" fill="none"/>
<path d="M1339.30 668.75L1330.93 664.60L1334.27 660.88z" fill="#000"/>
<path d="M1397.00 668.75L1375.70 668.75" stroke="#1c1c1c" stroke-width="1.0" fill="none"/>
<path d="M1366.70 668.75L1375.70 666.25L1375.70 671.25z" fill="#000"/>
<path d="M1305.25 729.40L1332.58 705.08" stroke="#1c1c1c" stroke-width="1.0" fill="none"/>
<path d="M1339.30 699.10L1334.24 706.95L1330.91 703.22z" fill="#000"/>
<path d="M1397.00 699.10L1375.70 699.10" stroke="#1c1c1c" stroke-width="1.0" fill="none"/>
<path d="M1366.70 699.10L1375.70 696.60L1375.70 701.60z" fill="#000"/>
<path d="M1310.05 738.00L1330.64 732.19" stroke="#1c1c1c" stroke-width="1.0" fill="none"/>
<path d="M1339.30 729.75L1331.32 734.60L1329.96 729.79z" fill="#000"/>
<path d="M1397.00 729.75L1375.70 729.75" stroke="#1c1c1c" stroke-width="1.0" fill="none"/>
<path d="M1366.70 729.75L1375.70 727.25L1375.70 732.25z" fill="#000"/>
<path d="M1310.05 751.20L1330.68 757.41" stroke="#1c1c1c" stroke-width="1.0" fill="none"/>
<path d="M1339.30 760.00L1329.96 759.80L1331.40 755.01z" fill="#000"/>
<path d="M1397.00 760.00L1375.70 760.00" stroke="#1c1c1c" stroke-width="1.0" fill="none"/>
<path d="M1366.70 760.00L1375.70 757.50L1375.70 762.50z" fill="#000"/>
<path d="M1305.25 759.80L1332.57 784.03" stroke="#1c1c1c" stroke-width="1.0" fill="none"/>
<path d="M1339.30 790.00L1330.91 785.90L1334.23 782.16z" fill="#000"/>
<path d="M1397.00 790.00L1375.70 790.00" stroke="#1c1c1c" stroke-width="1.0" fill="none"/>
<path d="M1366.70 790.00L1375.70 787.50L1375.70 792.50z" fill="#000"/>
<path d="M1305.25 849.70L1332.56 825.56" stroke="#1c1c1c" stroke-width="1.0" fill="none"/>
<path d="M1339.30 819.60L1334.21 827.43L1330.90 823.69z" fill="#000"/>
<path d="M1397.00 819.60L1375.70 819.60" stroke="#1c1c1c" stroke-width="1.0" fill="none"/>
<path d="M1366.70 819.60L1375.70 817.10L1375.70 822.10z" fill="#000"/>
<path d="M1310.05 858.30L1330.64 852.46" stroke="#1c1c1c" stroke-width="1.0" fill="none"/>
<path d="M1339.30 850.00L1331.32 854.86L1329.96 850.05z" fill="#000"/>
<path d="M1397.00 850.00L1375.70 850.00" stroke="#1c1c1c" stroke-width="1.0" fill="none"/>
<path d="M1366.70 850.00L1375.70 847.50L1375.70 852.50z" fill="#000"/>
<path d="M1310.05 871.50L1330.66 877.49" stroke="#1c1c1c" stroke-width="1.0" fill="none"/>
<path d="M1339.30 880.00L1329.96 879.89L1331.36 875.09z" fill="#000"/>
<path d="M1397.00 880.00L1375.70 880.00" stroke="#1c1c1c" stroke-width="1.0" fill="none"/>
<path d="M1366.70 880.00L1375.70 877.50L1375.70 882.50z" fill="#000"/>
<path d="M1305.25 880.10L1332.58 904.42" stroke="#1c1c1c" stroke-width="1.0" fill="none"/>
<path d="M1339.30 910.40L1330.91 906.28L1334.24 902.55z" fill="#000"/>
<path d="M1397.00 910.40L1375.70 910.40" stroke="#1c1c1c" stroke-width="1.0" fill="none"/>
<path d="M1366.70 910.40L1375.70 907.90L1375.70 912.90z" fill="#000"/>
<path d="M1305.25 969.55L1332.53 945.68" stroke="#1c1c1c" stroke-width="1.0" fill="none"/>
<path d="M1339.30 939.75L1334.17 947.56L1330.88 943.80z" fill="#000"/>
<path d="M1397.00 939.75L1375.70 939.75" stroke="#1c1c1c" stroke-width="1.0" fill="none"/>
<path d="M1366.70 939.75L1375.70 937.25L1375.70 942.25z" fill="#000"/>
<path d="M1310.05 978.15L1330.63 972.42" stroke="#1c1c1c" stroke-width="1.0" fill="none"/>
<path d="M1339.30 970.00L1331.30 974.82L1329.96 970.01z" fill="#000"/>
<path d="M1397.00 970.00L1375.70 970.00" stroke="#1c1c1c" stroke-width="1.0" fill="none"/>
<path d="M1366.70 970.00L1375.70 967.50L1375.70 972.50z" fill="#000"/>
<path d="M1310.05 991.35L1330.69 997.59" stroke="#1c1c1c" stroke-width="1.0" fill="none"/>
<path d="M1339.30 1000.20L1329.96 999.99L1331.41 995.20z" fill="#000"/>
<path d="M1397.00 1000.20L1375.70 1000.20" stroke="#1c1c1c" stroke-width="1.0" fill="none"/>
<path d="M1366.70 1000.20L1375.70 997.70L1375.70 1002.70z" fill="#000"/>
<path d="M1305.25 999.95L1332.60 1024.49" stroke="#1c1c1c" stroke-width="1.0" fill="none"/>
<path d="M1339.30 1030.50L1330.93 1026.35L1334.27 1022.63z" fill="#000"/>
<path d="M1397.00 1030.50L1375.70 1030.50" stroke="#1c1c1c" stroke-width="1.0" fill="none"/>
<path d="M1366.70 1030.50L1375.70 1028.00L1375.70 1033.00z" fill="#000"/>
<g style="mix-blend-mode:multiply" fill="url(#gf)" stroke="none">
<ellipse cx="885.25" cy="512.85" rx="76.5" ry="51.7"/>
<rect x="1047.4" y="216.9" width="110.4" height="59.6"/>
<rect x="1047.4" y="482.3" width="110.4" height="59.6"/>
<rect x="1047.4" y="731.2" width="110.4" height="59.6"/>
<ellipse cx="1282.75" cy="23.0" rx="27.75" ry="23.5"/>
<rect x="1339.3" y="56.25" width="27.4" height="23.3"/>
<circle cx="1408.75" cy="67.9" r="11.75"/>
<ellipse cx="1282.75" cy="145.5" rx="27.75" ry="23.5"/>
<rect x="1339.3" y="88.25" width="27.4" height="23.3"/>
<circle cx="1408.75" cy="99.9" r="11.75"/>
<rect x="1339.3" y="118.25" width="27.4" height="23.3"/>
<circle cx="1408.75" cy="129.9" r="11.75"/>
<rect x="1339.3" y="149.25" width="27.4" height="23.3"/>
<circle cx="1408.75" cy="160.9" r="11.75"/>
<rect x="1339.3" y="179.25" width="27.4" height="23.3"/>
<circle cx="1408.75" cy="190.9" r="11.75"/>
<ellipse cx="1282.75" cy="265.4" rx="27.75" ry="23.5"/>
<rect x="1339.3" y="208.25" width="27.4" height="23.3"/>
<circle cx="1408.75" cy="219.9" r="11.75"/>
<rect x="1339.3" y="238.75" width="27.4" height="23.3"/>
<circle cx="1408.75" cy="250.4" r="11.75"/>
<rect x="1339.3" y="269.25" width="27.4" height="23.3"/>
<circle cx="1408.75" cy="280.9" r="11.75"/>
<rect x="1339.3" y="299.25" width="27.4" height="23.3"/>
<circle cx="1408.75" cy="310.9" r="11.75"/>
<ellipse cx="1282.75" cy="384.4" rx="27.75" ry="23.5"/>
<rect x="1339.3" y="327.45" width="27.4" height="23.3"/>
<circle cx="1408.75" cy="339.1" r="11.75"/>
<rect x="1339.3" y="357.45" width="27.4" height="23.3"/>
<circle cx="1408.75" cy="369.1" r="11.75"/>
<rect x="1339.3" y="387.75" width="27.4" height="23.3"/>
<circle cx="1408.75" cy="399.4" r="11.75"/>
<rect x="1339.3" y="418.35" width="27.4" height="23.3"/>
<circle cx="1408.75" cy="430.0" r="11.75"/>
<ellipse cx="1282.75" cy="503.0" rx="27.75" ry="23.5"/>
<rect x="1339.3" y="446.25" width="27.4" height="23.3"/>
<circle cx="1408.75" cy="457.9" r="11.75"/>
<rect x="1339.3" y="476.25" width="27.4" height="23.3"/>
<circle cx="1408.75" cy="487.9" r="11.75"/>
<rect x="1339.3" y="506.45" width="27.4" height="23.3"/>
<circle cx="1408.75" cy="518.1" r="11.75"/>
<rect x="1339.3" y="536.95" width="27.4" height="23.3"/>
<circle cx="1408.75" cy="548.6" r="11.75"/>
<ellipse cx="1282.75" cy="623.0" rx="27.75" ry="23.5"/>
<rect x="1339.3" y="566.25" width="27.4" height="23.3"/>
<circle cx="1408.75" cy="577.9" r="11.75"/>
<rect x="1339.3" y="596.25" width="27.4" height="23.3"/>
<circle cx="1408.75" cy="607.9" r="11.75"/>
<rect x="1339.3" y="626.75" width="27.4" height="23.3"/>
<circle cx="1408.75" cy="638.4" r="11.75"/>
<rect x="1339.3" y="657.10" width="27.4" height="23.3"/>
<circle cx="1408.75" cy="668.75" r="11.75"/>
<ellipse cx="1282.75" cy="744.6" rx="27.75" ry="23.5"/>
<rect x="1339.3" y="687.45" width="27.4" height="23.3"/>
<circle cx="1408.75" cy="699.1" r="11.75"/>
<rect x="1339.3" y="718.10" width="27.4" height="23.3"/>
<circle cx="1408.75" cy="729.75" r="11.75"/>
<rect x="1339.3" y="748.35" width="27.4" height="23.3"/>
<circle cx="1408.75" cy="760.0" r="11.75"/>
<rect x="1339.3" y="778.35" width="27.4" height="23.3"/>
<circle cx="1408.75" cy="790.0" r="11.75"/>
<ellipse cx="1282.75" cy="864.9" rx="27.75" ry="23.5"/>
<rect x="1339.3" y="807.95" width="27.4" height="23.3"/>
<circle cx="1408.75" cy="819.6" r="11.75"/>
<rect x="1339.3" y="838.35" width="27.4" height="23.3"/>
<circle cx="1408.75" cy="850.0" r="11.75"/>
<rect x="1339.3" y="868.35" width="27.4" height="23.3"/>
<circle cx="1408.75" cy="880.0" r="11.75"/>
<rect x="1339.3" y="898.75" width="27.4" height="23.3"/>
<circle cx="1408.75" cy="910.4" r="11.75"/>
<ellipse cx="1282.75" cy="984.75" rx="27.75" ry="23.5"/>
<rect x="1339.3" y="928.10" width="27.4" height="23.3"/>
<circle cx="1408.75" cy="939.75" r="11.75"/>
<rect x="1339.3" y="958.35" width="27.4" height="23.3"/>
<circle cx="1408.75" cy="970.0" r="11.75"/>
<rect x="1339.3" y="988.55" width="27.4" height="23.3"/>
<circle cx="1408.75" cy="1000.2" r="11.75"/>
<rect x="1339.3" y="1018.85" width="27.4" height="23.3"/>
<circle cx="1408.75" cy="1030.5" r="11.75"/>
</g>
<g fill="none" stroke="#2a2a2a" stroke-width="1">
<ellipse cx="885.25" cy="512.85" rx="76.5" ry="51.7"/>
<rect x="1047.4" y="216.9" width="110.4" height="59.6"/>
<rect x="1047.4" y="482.3" width="110.4" height="59.6"/>
<rect x="1047.4" y="731.2" width="110.4" height="59.6"/>
<ellipse cx="1282.75" cy="23.0" rx="27.75" ry="23.5"/>
<rect x="1339.3" y="56.25" width="27.4" height="23.3"/>
<circle cx="1408.75" cy="67.9" r="11.75"/>
<ellipse cx="1282.75" cy="145.5" rx="27.75" ry="23.5"/>
<rect x="1339.3" y="88.25" width="27.4" height="23.3"/>
<circle cx="1408.75" cy="99.9" r="11.75"/>
<rect x="1339.3" y="118.25" width="27.4" height="23.3"/>
<circle cx="1408.75" cy="129.9" r="11.75"/>
<rect x="1339.3" y="149.25" width="27.4" height="23.3"/>
<circle cx="1408.75" cy="160.9" r="11.75"/>
<rect x="1339.3" y="179.25" width="27.4" height="23.3"/>
<circle cx="1408.75" cy="190.9" r="11.75"/>
<ellipse cx="1282.75" cy="265.4" rx="27.75" ry="23.5"/>
<rect x="1339.3" y="208.25" width="27.4" height="23.3"/>
<circle cx="1408.75" cy="219.9" r="11.75"/>
<rect x="1339.3" y="238.75" width="27.4" height="23.3"/>
<circle cx="1408.75" cy="250.4" r="11.75"/>
<rect x="1339.3" y="269.25" width="27.4" height="23.3"/>
<circle cx="1408.75" cy="280.9" r="11.75"/>
<rect x="1339.3" y="299.25" width="27.4" height="23.3"/>
<circle cx="1408.75" cy="310.9" r="11.75"/>
<ellipse cx="1282.75" cy="384.4" rx="27.75" ry="23.5"/>
<rect x="1339.3" y="327.45" width="27.4" height="23.3"/>
<circle cx="1408.75" cy="339.1" r="11.75"/>
<rect x="1339.3" y="357.45" width="27.4" height="23.3"/>
<circle cx="1408.75" cy="369.1" r="11.75"/>
<rect x="1339.3" y="387.75" width="27.4" height="23.3"/>
<circle cx="1408.75" cy="399.4" r="11.75"/>
<rect x="1339.3" y="418.35" width="27.4" height="23.3"/>
<circle cx="1408.75" cy="430.0" r="11.75"/>
<ellipse cx="1282.75" cy="503.0" rx="27.75" ry="23.5"/>
<rect x="1339.3" y="446.25" width="27.4" height="23.3"/>
<circle cx="1408.75" cy="457.9" r="11.75"/>
<rect x="1339.3" y="476.25" width="27.4" height="23.3"/>
<circle cx="1408.75" cy="487.9" r="11.75"/>
<rect x="1339.3" y="506.45" width="27.4" height="23.3"/>
<circle cx="1408.75" cy="518.1" r="11.75"/>
<rect x="1339.3" y="536.95" width="27.4" height="23.3"/>
<circle cx="1408.75" cy="548.6" r="11.75"/>
<ellipse cx="1282.75" cy="623.0" rx="27.75" ry="23.5"/>
<rect x="1339.3" y="566.25" width="27.4" height="23.3"/>
<circle cx="1408.75" cy="577.9" r="11.75"/>
<rect x="1339.3" y="596.25" width="27.4" height="23.3"/>
<circle cx="1408.75" cy="607.9" r="11.75"/>
<rect x="1339.3" y="626.75" width="27.4" height="23.3"/>
<circle cx="1408.75" cy="638.4" r="11.75"/>
<rect x="1339.3" y="657.10" width="27.4" height="23.3"/>
<circle cx="1408.75" cy="668.75" r="11.75"/>
<ellipse cx="1282.75" cy="744.6" rx="27.75" ry="23.5"/>
<rect x="1339.3" y="687.45" width="27.4" height="23.3"/>
<circle cx="1408.75" cy="699.1" r="11.75"/>
<rect x="1339.3" y="718.10" width="27.4" height="23.3"/>
<circle cx="1408.75" cy="729.75" r="11.75"/>
<rect x="1339.3" y="748.35" width="27.4" height="23.3"/>
<circle cx="1408.75" cy="760.0" r="11.75"/>
<rect x="1339.3" y="778.35" width="27.4" height="23.3"/>
<circle cx="1408.75" cy="790.0" r="11.75"/>
<ellipse cx="1282.75" cy="864.9" rx="27.75" ry="23.5"/>
<rect x="1339.3" y="807.95" width="27.4" height="23.3"/>
<circle cx="1408.75" cy="819.6" r="11.75"/>
<rect x="1339.3" y="838.35" width="27.4" height="23.3"/>
<circle cx="1408.75" cy="850.0" r="11.75"/>
<rect x="1339.3" y="868.35" width="27.4" height="23.3"/>
<circle cx="1408.75" cy="880.0" r="11.75"/>
<rect x="1339.3" y="898.75" width="27.4" height="23.3"/>
<circle cx="1408.75" cy="910.4" r="11.75"/>
<ellipse cx="1282.75" cy="984.75" rx="27.75" ry="23.5"/>
<rect x="1339.3" y="928.10" width="27.4" height="23.3"/>
<circle cx="1408.75" cy="939.75" r="11.75"/>
<rect x="1339.3" y="958.35" width="27.4" height="23.3"/>
<circle cx="1408.75" cy="970.0" r="11.75"/>
<rect x="1339.3" y="988.55" width="27.4" height="23.3"/>
<circle cx="1408.75" cy="1000.2" r="11.75"/>
<rect x="1339.3" y="1018.85" width="27.4" height="23.3"/>
<circle cx="1408.75" cy="1030.5" r="11.75"/>
</g>
<g font-size="7" text-anchor="middle" fill="#000" stroke="#000" stroke-width="0.1">
<text x="885.3" y="515.2">GenZ_WTIU_AI</text>
<text x="1102.6" y="248.6">AIK</text>
<text x="1102.6" y="514.0">AIK</text>
<text x="1102.6" y="762.9">AIK</text>
<text x="1353.0" y="70.4">DIS</text>
<text x="1408.75" y="70.4">e4</text>
<text x="1282.75" y="148.0">RMFA_AI</text>
<text x="1353.0" y="102.4">UNI</text>
<text x="1408.75" y="102.4">e5</text>
<text x="1353.0" y="132.4">AGE</text>
<text x="1408.75" y="132.4">e6</text>
<text x="1353.0" y="163.4">GEN</text>
<text x="1408.75" y="163.4">e7</text>
<text x="1353.0" y="193.4">DIS</text>
<text x="1408.75" y="193.4">e8</text>
<text x="1282.75" y="267.9">HDA_AI</text>
<text x="1353.0" y="222.4">UNI</text>
<text x="1408.75" y="222.4">e9</text>
<text x="1353.0" y="252.9">AGE</text>
<text x="1408.75" y="252.9">e10</text>
<text x="1353.0" y="283.4">GEN</text>
<text x="1408.75" y="283.4">e11</text>
<text x="1353.0" y="313.4">DIS</text>
<text x="1408.75" y="313.4">e12</text>
<text x="1282.75" y="386.9">AI_KNOW</text>
<text x="1353.0" y="341.6">UNI</text>
<text x="1408.75" y="341.6">e13</text>
<text x="1353.0" y="371.6">AGE</text>
<text x="1408.75" y="371.6">e14</text>
<text x="1353.0" y="401.9">GEN</text>
<text x="1408.75" y="401.9">e15</text>
<text x="1353.0" y="432.5">DIS</text>
<text x="1408.75" y="432.5">e16</text>
<text x="1282.75" y="505.5">AI_IMP</text>
<text x="1353.0" y="460.4">UNI</text>
<text x="1408.75" y="460.4">e17</text>
<text x="1353.0" y="490.4">AGE</text>
<text x="1408.75" y="490.4">e18</text>
<text x="1353.0" y="520.6">GEN</text>
<text x="1408.75" y="520.6">e19</text>
<text x="1353.0" y="551.1">DIS</text>
<text x="1408.75" y="551.1">e20</text>
<text x="1282.75" y="625.5">AI_INV</text>
<text x="1353.0" y="580.4">UNI</text>
<text x="1408.75" y="580.4">e21</text>
<text x="1353.0" y="610.4">AGE</text>
<text x="1408.75" y="610.4">e22</text>
<text x="1353.0" y="640.9">GEN</text>
<text x="1408.75" y="640.9">e23</text>
<text x="1353.0" y="671.2">DIS</text>
<text x="1408.75" y="671.2">e24</text>
<text x="1282.75" y="747.1">MACP_AI</text>
<text x="1353.0" y="701.6">UNI</text>
<text x="1408.75" y="701.6">e25</text>
<text x="1353.0" y="732.2">AGE</text>
<text x="1408.75" y="732.2">e26</text>
<text x="1353.0" y="762.5">GEN</text>
<text x="1408.75" y="762.5">e27</text>
<text x="1353.0" y="792.5">DIS</text>
<text x="1408.75" y="792.5">e28</text>
<text x="1282.75" y="867.4">ARMF_AI</text>
<text x="1353.0" y="822.1">UNI</text>
<text x="1408.75" y="822.1">e29</text>
<text x="1353.0" y="852.5">AGE</text>
<text x="1408.75" y="852.5">e30</text>
<text x="1353.0" y="882.5">GEN</text>
<text x="1408.75" y="882.5">e31</text>
<text x="1353.0" y="912.9">DIS</text>
<text x="1408.75" y="912.9">e32</text>
<text x="1282.75" y="987.2">AI_FUTURE</text>
<text x="1353.0" y="942.2">UNI</text>
<text x="1408.75" y="942.2">e33</text>
<text x="1353.0" y="972.5">AGE</text>
<text x="1408.75" y="972.5">e34</text>
<text x="1353.0" y="1002.7">GEN</text>
<text x="1408.75" y="1002.7">e35</text>
<text x="1353.0" y="1033.0">DIS</text>
<text x="1408.75" y="1033.0">e36</text>
</g>
<g font-size="5" text-anchor="middle" fill="#000" stroke="#000" stroke-width="0.1">
<text x="914.2" y="461.8">0</text>
<text x="1295.8" y="-2.8">0,</text>
<text x="1319.2" y="-9.7">1</text>
<text x="1380.4" y="64.9">1</text>
<text x="1416" y="53.7">0,</text>
<text x="1295.8" y="119.7">0,</text>
<text x="1319.2" y="112.8">1</text>
<text x="1380.4" y="96.9">1</text>
<text x="1416" y="85.7">0,</text>
<text x="1380.4" y="126.9">1</text>
<text x="1416" y="115.7">0,</text>
<text x="1380.4" y="157.9">1</text>
<text x="1416" y="146.7">0,</text>
<text x="1380.4" y="187.9">1</text>
<text x="1416" y="176.7">0,</text>
<text x="1295.8" y="239.6">0,</text>
<text x="1319.2" y="232.7">1</text>
<text x="1380.4" y="216.9">1</text>
<text x="1416" y="205.7">0,</text>
<text x="1380.4" y="247.4">1</text>
<text x="1416" y="236.2">0,</text>
<text x="1380.4" y="277.9">1</text>
<text x="1416" y="266.7">0,</text>
<text x="1380.4" y="307.9">1</text>
<text x="1416" y="296.7">0,</text>
<text x="1295.8" y="358.6">0,</text>
<text x="1319.2" y="351.7">1</text>
<text x="1380.4" y="336.1">1</text>
<text x="1416" y="324.9">0,</text>
<text x="1380.4" y="366.1">1</text>
<text x="1416" y="354.9">0,</text>
<text x="1380.4" y="396.4">1</text>
<text x="1416" y="385.2">0,</text>
<text x="1380.4" y="427.0">1</text>
<text x="1416" y="415.8">0,</text>
<text x="1295.8" y="477.2">0,</text>
<text x="1319.2" y="470.3">1</text>
<text x="1380.4" y="454.9">1</text>
<text x="1416" y="443.7">0,</text>
<text x="1380.4" y="484.9">1</text>
<text x="1416" y="473.7">0,</text>
<text x="1380.4" y="515.1">1</text>
<text x="1416" y="503.9">0,</text>
<text x="1380.4" y="545.6">1</text>
<text x="1416" y="534.4">0,</text>
<text x="1295.8" y="597.2">0,</text>
<text x="1319.2" y="590.3">1</text>
<text x="1380.4" y="574.9">1</text>
<text x="1416" y="563.7">0,</text>
<text x="1380.4" y="604.9">1</text>
<text x="1416" y="593.7">0,</text>
<text x="1380.4" y="635.4">1</text>
<text x="1416" y="624.2">0,</text>
<text x="1380.4" y="665.8">1</text>
<text x="1416" y="654.5">0,</text>
<text x="1295.8" y="718.8">0,</text>
<text x="1319.2" y="711.9">1</text>
<text x="1380.4" y="696.1">1</text>
<text x="1416" y="684.9">0,</text>
<text x="1380.4" y="726.8">1</text>
<text x="1416" y="715.5">0,</text>
<text x="1380.4" y="757.0">1</text>
<text x="1416" y="745.8">0,</text>
<text x="1380.4" y="787.0">1</text>
<text x="1416" y="775.8">0,</text>
<text x="1295.8" y="839.1">0,</text>
<text x="1319.2" y="832.2">1</text>
<text x="1380.4" y="816.6">1</text>
<text x="1416" y="805.4">0,</text>
<text x="1380.4" y="847.0">1</text>
<text x="1416" y="835.8">0,</text>
<text x="1380.4" y="877.0">1</text>
<text x="1416" y="865.8">0,</text>
<text x="1380.4" y="907.4">1</text>
<text x="1416" y="896.2">0,</text>
<text x="1295.8" y="959.0">0,</text>
<text x="1319.2" y="952.0">1</text>
<text x="1380.4" y="936.8">1</text>
<text x="1416" y="925.5">0,</text>
<text x="1380.4" y="967.0">1</text>
<text x="1416" y="955.8">0,</text>
<text x="1380.4" y="997.2">1</text>
<text x="1416" y="986.0">0,</text>
<text x="1380.4" y="1027.5">1</text>
<text x="1416" y="1016.3">0,</text>
</g>
</svg>
<span class="t" style="left:1207.2px;top:862.45px;font-size:24.7px;color:#b9b9b9;transform:scaleX(1.0077);">Activate Windows</span>
<span class="t" style="left:1207.2px;top:896.22px;font-size:18px;color:#bdbdbd;transform:scaleX(1.0011);">Go to Settings to activate Windows.</span>
</div>
<div id="status" class="abs"></div>
<span class="t" style="left:4.5px;top:998.75px;font-size:14.6px;color:#0a0a0a;transform:scaleX(1.0348);">Not estimating any user-defined estimand.</span>
<div id="taskbar" class="abs"></div>
<svg class="abs" style="left:0;top:1020px" width="1920" height="60" viewBox="0 1020 1920 60" font-family="&quot;Liberation Sans&quot;, sans-serif">
<defs>
<linearGradient id="wg" x1="0" y1="0" x2="1" y2="1"><stop offset="0" stop-color="#86e4fd"/><stop offset=".5" stop-color="#3cbcf8"/><stop offset="1" stop-color="#1593ee"/></linearGradient>
<linearGradient id="sp" x1="0" y1="0" x2="1" y2="0"><stop offset="0" stop-color="#30435c"/><stop offset="1" stop-color="#384b62"/></linearGradient>
<linearGradient id="fo" x1="0" y1="0" x2="0" y2="1"><stop offset="0" stop-color="#ffd964"/><stop offset="1" stop-color="#f5b52a"/></linearGradient>
<linearGradient id="fb" x1="0" y1="0" x2="0" y2="1"><stop offset="0" stop-color="#1f93ea"/><stop offset="1" stop-color="#146fc4"/></linearGradient>
<linearGradient id="st" x1="0" y1="0" x2="0" y2="1"><stop offset="0" stop-color="#ffffff"/><stop offset="1" stop-color="#e2e2e2"/></linearGradient>
<linearGradient id="ed1" x1="0.1" y1="0" x2="0.6" y2="1"><stop offset="0" stop-color="#35c4e0"/><stop offset=".5" stop-color="#1b8de6"/><stop offset="1" stop-color="#1464bd"/></linearGradient>
<linearGradient id="ed2" x1="0" y1="0.2" x2="1" y2="0.6"><stop offset="0" stop-color="#2cc0dc"/><stop offset=".6" stop-color="#4fd685"/><stop offset="1" stop-color="#6fe05a"/></linearGradient>
<linearGradient id="cp1" x1="0" y1="0" x2="0" y2="1"><stop offset="0" stop-color="#22b4ff"/><stop offset=".22" stop-color="#0f8de6"/><stop offset=".55" stop-color="#5cc070"/><stop offset=".8" stop-color="#d6cc28"/><stop offset="1" stop-color="#f6d200"/></linearGradient>
<linearGradient id="cp2" x1="0.2" y1="0" x2="0" y2="1"><stop offset="0" stop-color="#ac60f2"/><stop offset=".3" stop-color="#c458d0"/><stop offset=".55" stop-color="#f0568e"/><stop offset=".8" stop-color="#f98872"/><stop offset="1" stop-color="#ffba52"/></linearGradient>
<linearGradient id="tv1" x1="0" y1="0" x2="0" y2="1"><stop offset="0" stop-color="#777"/><stop offset="1" stop-color="#585858"/></linearGradient>
<linearGradient id="tv2" x1="0" y1="0" x2="0" y2="1"><stop offset="0" stop-color="#ffffff"/><stop offset="1" stop-color="#dcdcdc"/></linearGradient>
<linearGradient id="dol" x1="0" y1="0" x2="1" y2="1"><stop offset="0" stop-color="#c4c6e2"/><stop offset="1" stop-color="#8a8db6"/></linearGradient>
<linearGradient id="wat" x1="0" y1="0" x2="0" y2="1"><stop offset="0" stop-color="#62c8f4"/><stop offset="1" stop-color="#2f95e0"/></linearGradient>
<linearGradient id="sun" x1="0" y1="0" x2="0" y2="1"><stop offset="0" stop-color="#f9b233"/><stop offset="1" stop-color="#f07c1c"/></linearGradient>
<clipPath id="av"><circle cx="0" cy="0" r="10"/></clipPath>
</defs>
<rect x="0" y="1020" width="1920" height="1" fill="#4d5870"/>
<rect x="26.3" y="1036.2" width="13.6" height="13.6" rx="1" fill="url(#wg)"/>
<rect x="41.5" y="1036.2" width="13.6" height="13.6" rx="1" fill="url(#wg)"/>
<rect x="26.3" y="1051.4" width="13.6" height="13.6" rx="1" fill="url(#wg)"/>
<rect x="41.5" y="1051.4" width="13.6" height="13.6" rx="1" fill="url(#wg)"/>
<rect x="26.3" y="1036.2" width="28.8" height="28.8" fill="url(#wg)" opacity="0" />
<rect x="72.3" y="1030.3" width="274.4" height="39.4" rx="19.7" fill="url(#sp)" stroke="#506176" stroke-width="1"/>
<circle cx="94.7" cy="1047.6" r="6.4" fill="none" stroke="#eef0f3" stroke-width="1.7"/><path d="M99.4 1052.6L104.3 1057.8" stroke="#eef0f3" stroke-width="2" stroke-linecap="round"/>
<text x="118" y="1056.3" font-size="17.2" textLength="51.5" lengthAdjust="spacingAndGlyphs" fill="#eceef1">Search</text>
<g transform="translate(280,1032) scale(0.03521)">
<path d="M110 800Q180 700 480 712Q830 690 1200 712Q1560 700 1570 800Q1590 900 1300 940Q830 990 380 940Q90 900 110 800z" fill="url(#wat)"/><path d="M300 790Q830 700 1420 790Q830 745 300 790z" fill="#8adcf6" opacity=".8"/>
<path d="M275 322Q300 280 365 268Q400 205 490 180Q580 165 690 215L745 228Q800 185 880 172Q872 225 850 262Q960 370 1030 540Q1062 640 1075 705Q1130 750 1195 782L960 782Q950 700 900 625Q830 540 745 482Q690 470 640 490L560 420Q545 480 525 540L482 532Q480 460 505 398Q470 380 430 345Q350 352 275 322z" fill="url(#dol)"/>
<path d="M430 345Q470 380 505 398Q600 430 745 482Q830 540 900 625Q860 500 700 400Q560 330 430 345z" fill="#d2d3ea" opacity=".75"/>
<path d="M282 322Q350 335 425 330" stroke="#7f82a8" stroke-width="10" fill="none"/><circle cx="492" cy="285" r="11" fill="#5a4a60"/>
<path d="M1150 575L1158 680M1300 600Q1270 640 1262 680M1330 660L1350 690M760 660Q820 665 850 700" stroke="#9fe2f8" stroke-width="26" stroke-linecap="round" fill="none"/>
</g>
<rect x="362.2" y="1044.4" width="22.3" height="19.2" rx="2" fill="url(#tv1)"/><rect x="369.6" y="1036.2" width="22.4" height="20" rx="2" fill="url(#tv2)" opacity=".92"/><rect x="369.6" y="1044.4" width="14.9" height="11.8" fill="#c6c6c6" opacity=".55"/>
<g transform="translate(412,1030) scale(0.037037)">
<path d="M560 215H660Q705 215 722 265L745 335Q752 360 790 365L900 385L700 420L560 350z" fill="#1a4bd6"/>
<path d="M320 690H450L540 700L500 862H440Q385 860 365 800z" fill="#f2602c"/>
<path d="M330 212H600L445 690H230Q150 690 170 600L245 290Q265 212 330 212z" fill="url(#cp1)"/>
<path d="M655 372H850Q940 372 918 470L840 770Q815 862 740 862H488L640 405z" fill="url(#cp2)"/>
<path d="M470 862Q520 840 540 770L500 862z" fill="#f8783c"/>
</g>
<g transform="translate(460,1025) scale(0.09901)">
<path d="M120 135Q120 120 135 120H215Q228 120 238 132L252 150H410Q425 150 425 165V385H120z" fill="#e9a918"/><path d="M120 168Q120 152 136 152H410Q425 152 425 168V372Q425 386 410 386H135Q120 386 120 372z" fill="url(#fo)"/>
<path d="M172 340Q172 315 197 315H345Q370 315 370 340V386H172z" fill="url(#fb)"/><path d="M207 347H338" stroke="#0f5aa6" stroke-width="9" stroke-linecap="round"/>
<rect x="232" y="455" width="80" height="36" rx="18" fill="#9aa0ab"/>
<circle cx="827" cy="252" r="152" fill="url(#ed1)"/>
<path d="M700 170Q760 95 850 100Q960 112 978 215Q985 285 915 300Q860 305 855 265Q862 215 815 215Q750 220 740 300Q690 240 700 170z" fill="url(#ed2)"/>
<path d="M815 215Q862 215 855 265Q860 305 915 300Q940 296 958 282Q950 330 900 340Q820 345 800 290Q795 240 815 215z" fill="#13264a"/>
<path d="M740 300Q750 222 815 216Q792 245 800 292Q822 348 905 340Q940 335 960 320Q925 400 830 404Q770 380 740 300z" fill="#1458a8" opacity=".9"/>
<path d="M1232 170Q1232 150 1252 150H1505Q1525 150 1525 170V365Q1525 402 1488 402H1270Q1232 402 1232 365z" fill="url(#st)"/>
<path d="M1310 172V135Q1310 120 1325 120H1436Q1450 120 1450 135V172" fill="none" stroke="#2db7f5" stroke-width="15"/>
<rect x="1325" y="222" width="48" height="46" fill="#f25022"/><rect x="1388" y="222" width="48" height="46" fill="#7fba00"/><rect x="1325" y="285" width="48" height="46" fill="#00a4ef"/><rect x="1388" y="285" width="48" height="46" fill="#ffb900"/>
</g>
<path d="M638.74 1042.40A15.2 15.2 0 0 1 665.06 1042.40L651.90 1042.50A7.5 7.5 0 0 0 645.40 1053.75z" fill="#e53e30" stroke="#e53e30" stroke-width=".4"/>
<path d="M665.06 1042.40A15.2 15.2 0 0 1 651.90 1065.20L658.40 1053.75A7.5 7.5 0 0 0 651.90 1042.50z" fill="#fbc017" stroke="#fbc017" stroke-width=".4"/>
<path d="M651.90 1065.20A15.2 15.2 0 0 1 638.74 1042.40L645.40 1053.75A7.5 7.5 0 0 0 658.40 1053.75z" fill="#2aa24b" stroke="#2aa24b" stroke-width=".4"/>
<circle cx="651.9" cy="1050" r="7.5" fill="#fff"/><circle cx="651.9" cy="1050" r="6" fill="#2f7df0"/>
<circle cx="662.6" cy="1038.6" r="10.9" fill="#13264a"/><g transform="translate(662.6,1038.6)"><g clip-path="url(#av)"><rect x="-10" y="-10" width="20" height="20" fill="#fbfbfb"/><path d="M-10 10V5Q-8 2.6 -3 2L0 1.6L3 2Q8 2.6 10 5V10z" fill="#17181b"/><path d="M-2.4 1.4L-1.6 9L1.6 9L2.4 1.4z" fill="#9a9a9e"/><path d="M-0.6 2.5h1.2l.5 5h-2.2z" fill="#5a5a60"/><ellipse cx="0.1" cy="-3.4" rx="3.1" ry="4.1" fill="#b9957c"/><path d="M-2.8 -1.6Q0 2.4 2.9 -1.6Q2 0.9 0 1.2Q-2 0.9 -2.8 -1.6z" fill="#4a3a34"/><path d="M-3.5 -4Q-3.8 -8.6 0.1 -8.6Q4 -8.6 3.6 -4Q2.6 -6.2 0 -6Q-2.4 -6.2 -3.5 -4z" fill="#27211f"/><path d="M-2.4 -3.6h1.9M0.6 -3.6h1.9" stroke="#3a2c28" stroke-width=".7"/></g></g>
<rect x="648.2" y="1070.2" width="7.6" height="3.4" rx="1.7" fill="#9aa0ab"/>
<path d="M693.64 1042.40A15.2 15.2 0 0 1 719.96 1042.40L706.80 1042.50A7.5 7.5 0 0 0 700.30 1053.75z" fill="#e53e30" stroke="#e53e30" stroke-width=".4"/>
<path d="M719.96 1042.40A15.2 15.2 0 0 1 706.80 1065.20L713.30 1053.75A7.5 7.5 0 0 0 706.80 1042.50z" fill="#fbc017" stroke="#fbc017" stroke-width=".4"/>
<path d="M706.80 1065.20A15.2 15.2 0 0 1 693.64 1042.40L700.30 1053.75A7.5 7.5 0 0 0 713.30 1053.75z" fill="#2aa24b" stroke="#2aa24b" stroke-width=".4"/>
<circle cx="706.8" cy="1050" r="7.5" fill="#fff"/><circle cx="706.8" cy="1050" r="6" fill="#2f7df0"/>
<circle cx="714.2" cy="1042.3" r="7.6" fill="#13264a"/><circle cx="714.2" cy="1042.3" r="5.6" fill="#1d3253" stroke="#dfe6f2" stroke-width="1.1"/><circle cx="714.2" cy="1040.6" r="1.9" fill="none" stroke="#dfe6f2" stroke-width="1"/><path d="M710.6 1045.6Q714.2 1042.6 717.8 1045.6" fill="none" stroke="#dfe6f2" stroke-width="1"/>
<path d="M748.54 1042.40A15.2 15.2 0 0 1 774.86 1042.40L761.70 1042.50A7.5 7.5 0 0 0 755.20 1053.75z" fill="#e53e30" stroke="#e53e30" stroke-width=".4"/>
<path d="M774.86 1042.40A15.2 15.2 0 0 1 761.70 1065.20L768.20 1053.75A7.5 7.5 0 0 0 761.70 1042.50z" fill="#fbc017" stroke="#fbc017" stroke-width=".4"/>
<path d="M761.70 1065.20A15.2 15.2 0 0 1 748.54 1042.40L755.20 1053.75A7.5 7.5 0 0 0 768.20 1053.75z" fill="#2aa24b" stroke="#2aa24b" stroke-width=".4"/>
<circle cx="761.7" cy="1050" r="7.5" fill="#fff"/><circle cx="761.7" cy="1050" r="6" fill="#2f7df0"/>
<circle cx="772.4" cy="1038.6" r="10.9" fill="#13264a"/><g transform="translate(772.4,1038.6)"><g clip-path="url(#av)"><rect x="-10" y="-10" width="20" height="20" fill="#fbfbfb"/><path d="M-10 10V5Q-8 2.6 -3 2L0 1.6L3 2Q8 2.6 10 5V10z" fill="#17181b"/><path d="M-2.4 1.4L-1.6 9L1.6 9L2.4 1.4z" fill="#9a9a9e"/><path d="M-0.6 2.5h1.2l.5 5h-2.2z" fill="#5a5a60"/><ellipse cx="0.1" cy="-3.4" rx="3.1" ry="4.1" fill="#b9957c"/><path d="M-2.8 -1.6Q0 2.4 2.9 -1.6Q2 0.9 0 1.2Q-2 0.9 -2.8 -1.6z" fill="#4a3a34"/><path d="M-3.5 -4Q-3.8 -8.6 0.1 -8.6Q4 -8.6 3.6 -4Q2.6 -6.2 0 -6Q-2.4 -6.2 -3.5 -4z" fill="#27211f"/><path d="M-2.4 -3.6h1.9M0.6 -3.6h1.9" stroke="#3a2c28" stroke-width=".7"/></g></g>
<rect x="758.0" y="1070.2" width="7.6" height="3.4" rx="1.7" fill="#9aa0ab"/>
<path d="M803.44 1042.40A15.2 15.2 0 0 1 829.76 1042.40L816.60 1042.50A7.5 7.5 0 0 0 810.10 1053.75z" fill="#e53e30" stroke="#e53e30" stroke-width=".4"/>
<path d="M829.76 1042.40A15.2 15.2 0 0 1 816.60 1065.20L823.10 1053.75A7.5 7.5 0 0 0 816.60 1042.50z" fill="#fbc017" stroke="#fbc017" stroke-width=".4"/>
<path d="M816.60 1065.20A15.2 15.2 0 0 1 803.44 1042.40L810.10 1053.75A7.5 7.5 0 0 0 823.10 1053.75z" fill="#2aa24b" stroke="#2aa24b" stroke-width=".4"/>
<circle cx="816.6" cy="1050" r="7.5" fill="#fff"/><circle cx="816.6" cy="1050" r="6" fill="#2f7df0"/>
<circle cx="827.4" cy="1038.6" r="10.9" fill="#13264a"/><g transform="translate(827.4,1038.6)"><g clip-path="url(#av)"><rect x="-10" y="-10" width="20" height="20" fill="#d3222c"/><path d="M-10 10V5Q-8 2.6 -3 2L0 1.6L3 2Q8 2.6 10 5V10z" fill="#17181b"/><path d="M-2.4 1.4L-1.6 9L1.6 9L2.4 1.4z" fill="#9a9a9e"/><path d="M-0.6 2.5h1.2l.5 5h-2.2z" fill="#5a5a60"/><ellipse cx="0.1" cy="-3.4" rx="3.1" ry="4.1" fill="#b9957c"/><path d="M-2.8 -1.6Q0 2.4 2.9 -1.6Q2 0.9 0 1.2Q-2 0.9 -2.8 -1.6z" fill="#4a3a34"/><path d="M-3.5 -4Q-3.8 -8.6 0.1 -8.6Q4 -8.6 3.6 -4Q2.6 -6.2 0 -6Q-2.4 -6.2 -3.5 -4z" fill="#27211f"/><path d="M-2.4 -3.6h1.9M0.6 -3.6h1.9" stroke="#3a2c28" stroke-width=".7"/></g></g>
<rect x="812.9000000000001" y="1070.2" width="7.6" height="3.4" rx="1.7" fill="#9aa0ab"/>
<rect x="847.5" y="1025.5" width="49" height="49.3" rx="5" fill="#22355a" stroke="#2e4166" stroke-width="1"/>
<rect x="862" y="1070.2" width="19.8" height="3.4" rx="1.7" fill="#4cc2ff"/>
<g transform="translate(856.3,1033.6) scale(0.98)">
<g stroke="#000" stroke-width="1" fill="none"><path d="M16 9V15M16 12L6 17V19M16 12L26 17V19M16 15V19M6 23V26M16 23V26M26 23V26"/></g>
<ellipse cx="16" cy="5.5" rx="5.6" ry="4.6" fill="#00f0ff" stroke="#000" stroke-width="1.2"/><rect x="12.5" y="4.5" width="7" height="2.2" fill="#000"/>
<rect x="2.4" y="18.5" width="7.2" height="4.6" fill="#00f0ff" stroke="#000" stroke-width="1.1"/><ellipse cx="6" cy="28.2" rx="3.6" ry="3" fill="#00f0ff" stroke="#000" stroke-width="1.1"/><path d="M4.2 28.2h3.6M4.4 20.8h3.2" stroke="#000" stroke-width="1"/>
<rect x="12.4" y="18.5" width="7.2" height="4.6" fill="#00f0ff" stroke="#000" stroke-width="1.1"/><ellipse cx="16" cy="28.2" rx="3.6" ry="3" fill="#00f0ff" stroke="#000" stroke-width="1.1"/><path d="M14.2 28.2h3.6M14.4 20.8h3.2" stroke="#000" stroke-width="1"/>
<rect x="22.4" y="18.5" width="7.2" height="4.6" fill="#00f0ff" stroke="#000" stroke-width="1.1"/><ellipse cx="26" cy="28.2" rx="3.6" ry="3" fill="#00f0ff" stroke="#000" stroke-width="1.1"/><path d="M24.2 28.2h3.6M24.4 20.8h3.2" stroke="#000" stroke-width="1"/>
</g>
<path d="M1447 1051A12.2 12.2 0 0 0 1471.4 1051z" fill="url(#sun)"/><path d="M1447.5 1051a12 12 0 0 1 6-9.5" fill="none" stroke="#f9b233" stroke-width="0"/>
<g stroke="#f7cf58" stroke-width="2.6" stroke-linecap="round"><path d="M1451 1040.6H1457M1449.6 1045.6H1462M1445.8 1050.8H1469M1450 1055.8H1471.5" /></g><path d="M1464 1050.8H1469.5" stroke="#fbe49a" stroke-width="2.6" stroke-linecap="round"/>
<circle cx="1468.9" cy="1038.3" r="9.8" fill="#f6a3b3"/><text x="1468.9" y="1043" font-size="12.5" text-anchor="middle" fill="#3a1420">1</text>
<text x="1484.7" y="1045.3" font-size="15" textLength="31.3" lengthAdjust="spacingAndGlyphs" fill="#f2f4f7">27°C</text>
<text x="1484.7" y="1064.4" font-size="15" textLength="32.6" lengthAdjust="spacingAndGlyphs" fill="#c9cfd9">Haze</text>
<path d="M1649.5 1053.2L1655.8 1046.6L1662.1 1053.2" fill="none" stroke="#f0f2f5" stroke-width="1.9" stroke-linecap="round" stroke-linejoin="round"/>
<g fill="none" stroke="#f0f2f5" stroke-width="1.5" stroke-linecap="round"><path d="M1688.2 1046.4A8.6 8.6 0 0 1 1703.8 1045.2M1704.3 1040.6V1045.6H1699.3"/><path d="M1703.6 1054.2A8.6 8.6 0 0 1 1688.4 1055.6M1687.6 1060V1055H1692.6"/></g>
<circle cx="1701.4" cy="1054.6" r="5.3" fill="#13264a"/><circle cx="1701.4" cy="1054.6" r="4.4" fill="#f7941d"/>
<g fill="none" stroke="#f0f2f5" stroke-width="1.7" stroke-linecap="round"><path d="M1726.6 1047.2A13.4 13.4 0 0 1 1745.4 1047.2"/><path d="M1729.8 1050.6A8.8 8.8 0 0 1 1742.2 1050.6"/><path d="M1732.9 1053.9A4.4 4.4 0 0 1 1739.1 1053.9"/></g><circle cx="1736" cy="1056.6" r="1.5" fill="#f0f2f5"/>
<path d="M1756.6 1047.4H1760L1764.6 1043.4V1057L1760 1053H1756.6z" fill="none" stroke="#f0f2f5" stroke-width="1.4" stroke-linejoin="round"/><g fill="none" stroke-linecap="round"><path d="M1767.4 1047.4A4 4 0 0 1 1767.4 1053" stroke="#f0f2f5" stroke-width="1.4"/><path d="M1769.8 1044.8A7.6 7.6 0 0 1 1769.8 1055.6" stroke="#f0f2f5" stroke-width="1.4"/><path d="M1772.4 1042.4A11 11 0 0 1 1772.4 1058" stroke="#75829a" stroke-width="1.3"/></g>
<rect x="1787.6" y="1044.6" width="16.4" height="10.4" rx="2.4" fill="none" stroke="#f0f2f5" stroke-width="1.4"/><path d="M1805.6 1048V1052" stroke="#f0f2f5" stroke-width="1.8" stroke-linecap="round"/><rect x="1789.6" y="1046.6" width="11" height="6.4" rx="1" fill="#f0f2f5"/><path d="M1787 1041.6L1790.6 1040.4L1789.2 1045.2L1792 1044.6L1786.6 1051z" fill="#f0f2f5" stroke="#13264a" stroke-width=".8"/>
<text x="1896.2" y="1045.3" font-size="15" text-anchor="end" textLength="62" lengthAdjust="spacingAndGlyphs" fill="#f2f4f7">10:27 PM</text>
<text x="1896.2" y="1064.4" font-size="15" text-anchor="end" textLength="68.6" lengthAdjust="spacingAndGlyphs" fill="#f2f4f7">9/12/2025</text>
</svg>
</body></html>
